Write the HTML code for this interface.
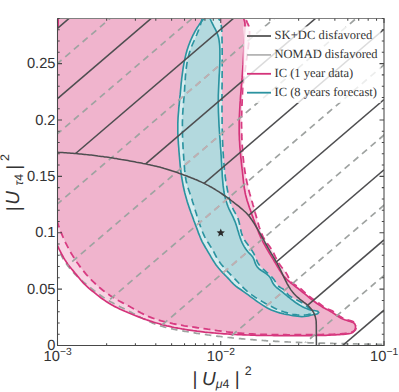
<!DOCTYPE html>
<html><head><meta charset="utf-8"><title>plot</title>
<style>html,body{margin:0;padding:0;background:#fff;}svg{display:block;}text{text-rendering:geometricPrecision;}</style></head>
<body>
<svg width="399" height="392" viewBox="0 0 399 392">
<defs>
<clipPath id="plot"><rect x="57.50" y="18.50" width="326.50" height="327.00"/></clipPath>
<clipPath id="skc"><path d="M57.5 152.3 L59.2 152.4 L60.9 152.5 L62.6 152.6 L64.3 152.7 L66.0 152.8 L67.6 152.9 L69.3 153.0 L71.0 153.2 L72.7 153.3 L74.4 153.4 L76.1 153.6 L77.8 153.7 L79.5 153.9 L81.1 154.0 L82.8 154.2 L84.5 154.4 L86.2 154.6 L87.9 154.7 L89.6 154.9 L91.2 155.1 L92.9 155.3 L94.6 155.5 L96.3 155.7 L98.0 156.0 L99.6 156.2 L101.3 156.4 L103.0 156.6 L104.7 156.9 L106.3 157.1 L108.0 157.3 L109.7 157.6 L111.3 157.8 L113.0 158.1 L114.7 158.4 L116.4 158.6 L118.0 158.9 L119.7 159.2 L121.4 159.5 L123.0 159.7 L124.7 160.0 L126.4 160.3 L128.0 160.6 L129.7 160.9 L131.4 161.2 L133.0 161.5 L134.7 161.8 L136.4 162.2 L138.0 162.5 L139.7 162.8 L141.4 163.1 L143.0 163.5 L144.7 163.8 L146.3 164.1 L148.0 164.5 L149.7 164.8 L151.3 165.2 L153.0 165.6 L154.6 165.9 L156.3 166.3 L157.9 166.7 L159.5 167.1 L161.2 167.6 L162.8 168.0 L164.4 168.5 L166.1 168.9 L167.7 169.4 L169.3 169.9 L170.9 170.4 L172.5 171.0 L174.1 171.5 L175.7 172.0 L177.3 172.6 L178.9 173.2 L180.5 173.7 L182.1 174.3 L183.7 174.9 L185.3 175.5 L186.9 176.1 L188.4 176.7 L190.0 177.3 L191.6 177.9 L193.2 178.5 L194.8 179.2 L196.3 179.8 L197.9 180.5 L199.4 181.2 L201.0 181.9 L202.5 182.6 L204.0 183.3 L205.5 184.1 L207.0 184.9 L208.5 185.6 L210.0 186.5 L211.5 187.3 L212.9 188.1 L214.4 189.0 L215.8 189.9 L217.3 190.8 L218.7 191.7 L220.1 192.6 L221.5 193.5 L222.9 194.5 L224.3 195.5 L225.7 196.4 L227.1 197.4 L228.4 198.4 L229.8 199.4 L231.2 200.5 L232.5 201.5 L233.9 202.5 L235.2 203.6 L236.5 204.6 L237.9 205.7 L239.2 206.7 L240.5 207.8 L241.8 208.9 L243.1 210.0 L244.4 211.2 L245.6 212.3 L246.8 213.5 L247.9 214.7 L249.0 216.0 L250.0 217.3 L251.0 218.7 L252.0 220.1 L252.9 221.5 L253.8 222.9 L254.7 224.4 L255.6 225.8 L256.5 227.3 L257.3 228.7 L258.2 230.2 L259.0 231.7 L259.9 233.1 L260.7 234.6 L261.5 236.1 L262.4 237.6 L263.2 239.0 L264.0 240.5 L264.8 242.0 L265.6 243.5 L266.5 245.0 L267.3 246.4 L268.1 247.9 L269.0 249.4 L269.8 250.9 L270.7 252.3 L271.5 253.8 L272.4 255.2 L273.2 256.7 L274.1 258.1 L275.0 259.6 L275.8 261.1 L276.7 262.5 L277.5 264.0 L278.3 265.5 L279.1 267.0 L279.9 268.5 L280.6 270.0 L281.3 271.5 L282.0 273.0 L282.7 274.6 L283.4 276.1 L284.1 277.7 L284.9 279.2 L285.6 280.7 L286.4 282.2 L287.2 283.8 L288.0 285.2 L288.9 286.7 L289.8 288.1 L290.7 289.6 L291.7 290.9 L292.8 292.3 L293.8 293.5 L295.0 294.8 L296.2 296.0 L297.4 297.1 L298.7 298.2 L300.0 299.3 L301.3 300.3 L302.7 301.4 L304.0 302.4 L305.4 303.4 L306.7 304.4 L308.0 305.5 L309.2 306.7 L310.3 307.9 L311.4 309.2 L312.3 310.5 L313.2 311.9 L314.0 313.4 L314.6 314.9 L315.2 316.4 L315.6 318.1 L316.0 319.8 L316.2 321.5 L316.2 323.3 L316.3 325.0 L316.40 345.50 L389.00 345.50 L389.00 13.50 L57.50 13.50 Z"/></clipPath>
<clipPath id="nmc"><path d="M57.5 247.5 L58.0 248.6 L58.5 249.7 L59.0 250.8 L59.5 251.8 L60.0 252.9 L60.5 254.0 L61.1 255.1 L61.7 256.1 L62.2 257.2 L62.8 258.2 L63.4 259.2 L64.1 260.3 L64.7 261.3 L65.4 262.3 L66.0 263.3 L66.7 264.3 L67.4 265.2 L68.1 266.2 L68.8 267.1 L69.6 268.1 L70.3 269.0 L71.1 269.9 L71.9 270.8 L72.7 271.7 L73.5 272.6 L74.3 273.4 L75.1 274.3 L76.0 275.1 L76.8 276.0 L77.7 276.8 L78.6 277.6 L79.4 278.4 L80.3 279.2 L81.2 280.0 L82.1 280.8 L83.0 281.6 L83.9 282.3 L84.9 283.1 L85.8 283.9 L86.7 284.6 L87.6 285.4 L88.6 286.1 L89.5 286.9 L90.4 287.6 L91.4 288.4 L92.3 289.1 L93.3 289.9 L94.2 290.6 L95.2 291.3 L96.1 292.1 L97.1 292.8 L98.0 293.5 L99.0 294.2 L100.0 294.9 L101.0 295.6 L101.9 296.3 L102.9 297.0 L103.9 297.6 L104.9 298.3 L105.9 298.9 L106.9 299.6 L107.9 300.2 L109.0 300.8 L110.0 301.4 L111.0 302.0 L112.1 302.5 L113.1 303.1 L114.2 303.7 L115.2 304.2 L116.3 304.8 L117.3 305.3 L118.4 305.9 L119.5 306.4 L120.5 306.9 L121.6 307.5 L122.7 308.0 L123.7 308.5 L124.8 309.1 L125.9 309.6 L126.9 310.1 L128.0 310.7 L129.1 311.2 L130.1 311.8 L131.2 312.3 L132.3 312.9 L133.3 313.5 L134.4 314.0 L135.4 314.6 L136.5 315.1 L137.6 315.7 L138.6 316.3 L139.7 316.8 L140.7 317.4 L141.8 317.9 L142.9 318.5 L143.9 319.0 L145.0 319.6 L146.1 320.1 L147.2 320.6 L148.2 321.1 L149.3 321.6 L150.4 322.1 L151.5 322.6 L152.6 323.1 L153.7 323.5 L154.8 323.9 L155.9 324.4 L157.0 324.8 L158.2 325.1 L159.3 325.5 L160.4 325.9 L161.6 326.2 L162.7 326.5 L163.9 326.9 L165.0 327.2 L166.2 327.5 L167.3 327.8 L168.5 328.0 L169.6 328.3 L170.8 328.6 L172.0 328.8 L173.2 329.1 L174.3 329.3 L175.5 329.6 L176.7 329.8 L177.9 330.0 L179.0 330.2 L180.2 330.5 L181.4 330.7 L182.6 330.9 L183.7 331.1 L184.9 331.3 L186.1 331.5 L187.3 331.7 L188.5 331.9 L189.6 332.1 L190.8 332.3 L192.0 332.5 L193.2 332.7 L194.4 332.9 L195.6 333.1 L196.7 333.3 L197.9 333.5 L199.1 333.6 L200.3 333.8 L201.5 334.0 L202.7 334.2 L203.8 334.4 L205.0 334.5 L206.2 334.7 L207.4 334.9 L208.6 335.0 L209.8 335.2 L210.9 335.3 L212.1 335.5 L213.3 335.7 L214.5 335.8 L215.7 336.0 L216.9 336.1 L218.1 336.3 L219.3 336.4 L220.4 336.5 L221.6 336.7 L222.8 336.8 L224.0 337.0 L225.2 337.1 L226.4 337.2 L227.6 337.4 L228.8 337.5 L229.9 337.6 L231.1 337.7 L232.3 337.9 L233.5 338.0 L234.7 338.1 L235.9 338.2 L237.1 338.3 L238.3 338.5 L239.5 338.6 L240.7 338.7 L241.8 338.8 L243.0 338.9 L244.2 339.0 L245.4 339.1 L246.6 339.2 L247.8 339.3 L249.0 339.4 L250.2 339.5 L251.4 339.6 L252.6 339.7 L253.8 339.8 L254.9 339.9 L256.1 340.0 L257.3 340.1 L258.5 340.2 L259.7 340.3 L260.9 340.3 L262.1 340.4 L263.3 340.5 L264.5 340.6 L265.7 340.7 L266.9 340.8 L268.1 340.8 L269.3 340.9 L270.4 341.0 L271.6 341.1 L272.8 341.1 L274.0 341.2 L275.2 341.3 L276.4 341.3 L277.6 341.4 L278.8 341.5 L280.0 341.5 L281.2 341.6 L282.4 341.7 L283.6 341.7 L284.8 341.8 L286.0 341.8 L287.2 341.9 L288.4 342.0 L289.6 342.0 L290.7 342.1 L291.9 342.1 L293.1 342.2 L294.3 342.2 L295.5 342.3 L296.7 342.3 L297.9 342.4 L299.1 342.4 L300.3 342.5 L301.5 342.5 L302.7 342.6 L303.9 342.6 L305.1 342.6 L306.3 342.7 L307.5 342.7 L308.7 342.8 L309.9 342.8 L311.1 342.9 L312.3 342.9 L313.5 342.9 L314.7 343.0 L315.8 343.0 L317.0 343.0 L318.2 343.1 L319.4 343.1 L320.6 343.1 L321.8 343.2 L323.0 343.2 L324.2 343.2 L325.4 343.3 L326.6 343.3 L327.8 343.3 L329.0 343.4 L330.2 343.4 L331.4 343.4 L332.6 343.4 L333.8 343.5 L335.0 343.5 L336.2 343.5 L337.4 343.6 L338.6 343.6 L339.8 343.6 L341.0 343.6 L342.2 343.7 L343.4 343.7 L344.5 343.7 L345.7 343.7 L346.9 343.8 L348.1 343.8 L349.3 343.8 L350.5 343.8 L351.7 343.8 L352.9 343.9 L354.1 343.9 L355.3 343.9 L356.5 343.9 L357.7 344.0 L358.9 344.0 L360.1 344.0 L361.3 344.0 L362.5 344.0 L363.7 344.1 L364.9 344.1 L366.1 344.1 L367.3 344.1 L368.5 344.1 L369.7 344.2 L370.9 344.2 L372.0 344.2 L373.2 344.2 L374.4 344.2 L375.6 344.3 L376.8 344.3 L378.0 344.3 L379.2 344.3 L380.4 344.4 L381.6 344.4 L382.8 344.4 L384.0 344.5 L389.00 345.50 L389.00 13.50 L57.50 13.50 Z"/></clipPath>
<clipPath id="pinkDc"><path d="M57.5 222.3 L58.1 224.2 L58.7 226.0 L59.4 227.9 L60.0 229.7 L60.7 231.6 L61.5 233.4 L62.2 235.2 L63.0 237.0 L63.8 238.8 L64.6 240.6 L65.4 242.3 L66.3 244.1 L67.2 245.9 L68.1 247.6 L69.0 249.3 L69.9 251.1 L70.9 252.8 L71.9 254.4 L72.9 256.1 L74.0 257.8 L75.0 259.4 L76.1 261.1 L77.2 262.7 L78.4 264.3 L79.5 265.9 L80.7 267.5 L81.9 269.0 L83.1 270.5 L84.4 272.1 L85.6 273.6 L86.9 275.1 L88.2 276.5 L89.6 278.0 L90.9 279.4 L92.3 280.8 L93.7 282.2 L95.1 283.5 L96.5 284.9 L98.0 286.2 L99.5 287.5 L101.0 288.7 L102.5 290.0 L104.1 291.2 L105.6 292.4 L107.2 293.5 L108.8 294.6 L110.4 295.7 L112.1 296.8 L113.7 297.8 L115.4 298.9 L117.1 299.8 L118.8 300.8 L120.6 301.7 L122.3 302.6 L124.0 303.6 L125.8 304.5 L127.5 305.4 L129.3 306.3 L131.0 307.3 L132.7 308.2 L134.4 309.2 L136.1 310.2 L137.8 311.2 L139.5 312.1 L141.2 313.0 L143.0 313.9 L144.7 314.8 L146.5 315.6 L148.3 316.4 L150.1 317.1 L152.0 317.8 L153.8 318.5 L155.7 319.1 L157.5 319.7 L159.4 320.3 L161.3 320.9 L163.2 321.4 L165.1 321.9 L167.0 322.4 L168.9 322.8 L170.8 323.2 L172.8 323.7 L174.7 324.0 L176.6 324.4 L178.5 324.8 L180.5 325.1 L182.4 325.4 L184.3 325.8 L186.3 326.1 L188.2 326.4 L190.2 326.7 L192.1 326.9 L194.0 327.2 L196.0 327.5 L197.9 327.8 L199.9 328.0 L201.8 328.3 L203.8 328.6 L205.7 328.9 L207.7 329.2 L209.6 329.4 L211.5 329.7 L213.5 330.0 L215.4 330.3 L217.4 330.6 L219.3 330.8 L221.3 331.1 L223.2 331.4 L225.2 331.6 L227.1 331.9 L229.1 332.1 L231.0 332.3 L233.0 332.5 L234.9 332.7 L236.9 332.9 L238.8 333.1 L240.8 333.2 L242.7 333.4 L244.7 333.5 L246.6 333.7 L248.6 333.8 L250.6 333.9 L252.5 334.0 L254.5 334.1 L256.4 334.2 L258.4 334.3 L260.4 334.3 L262.3 334.4 L264.3 334.5 L266.2 334.5 L268.2 334.6 L270.2 334.6 L272.1 334.6 L274.1 334.7 L276.1 334.7 L278.0 334.7 L280.0 334.7 L282.0 334.7 L283.9 334.7 L285.9 334.7 L287.9 334.8 L289.8 334.8 L291.8 334.8 L293.7 334.7 L295.7 334.7 L297.7 334.7 L299.6 334.7 L301.6 334.7 L303.6 334.7 L305.5 334.7 L307.5 334.7 L309.4 334.7 L311.4 334.7 L313.4 334.7 L315.3 334.6 L317.3 334.6 L319.2 334.6 L321.2 334.6 L323.2 334.5 L325.1 334.5 L327.1 334.4 L329.0 334.4 L331.0 334.3 L333.0 334.3 L334.9 334.2 L336.9 334.1 L338.9 334.0 L340.8 333.9 L342.8 333.7 L344.7 333.5 L346.7 333.2 L348.6 332.8 L350.6 332.4 L352.4 331.8 L354.2 331.0 L355.5 329.8 L356.2 328.0 L356.3 325.9 L355.8 324.0 L354.6 322.5 L353.0 321.6 L351.2 320.9 L349.2 320.3 L347.3 319.8 L345.4 319.3 L343.6 318.6 L341.9 317.6 L340.3 316.6 L338.7 315.4 L337.1 314.2 L335.5 313.0 L333.9 311.9 L332.2 310.9 L330.4 310.1 L328.6 309.4 L326.7 308.6 L325.0 307.7 L323.4 306.6 L321.9 305.4 L320.3 304.2 L318.7 303.0 L317.1 301.9 L315.5 300.8 L313.9 299.7 L312.2 298.6 L310.7 297.4 L309.1 296.3 L307.6 295.0 L306.1 293.8 L304.7 292.4 L303.3 291.1 L301.8 289.7 L300.3 288.4 L298.7 287.3 L297.0 286.2 L295.3 285.1 L293.7 284.0 L292.1 282.8 L290.8 281.5 L289.7 279.9 L288.8 278.2 L288.0 276.4 L287.1 274.6 L286.1 272.9 L285.0 271.3 L283.8 269.8 L282.5 268.2 L281.3 266.7 L280.1 265.1 L279.0 263.5 L278.0 261.8 L277.1 260.1 L276.2 258.3 L275.3 256.6 L274.5 254.8 L273.6 253.0 L272.7 251.3 L271.7 249.6 L270.6 248.0 L269.5 246.4 L268.3 244.8 L267.1 243.2 L266.0 241.6 L264.9 240.0 L263.9 238.3 L263.0 236.6 L262.2 234.8 L261.4 233.1 L260.7 231.3 L260.1 229.4 L259.4 227.6 L258.8 225.7 L258.3 223.8 L257.7 222.0 L257.2 220.1 L256.7 218.2 L256.2 216.3 L255.7 214.4 L255.1 212.5 L254.6 210.6 L254.1 208.7 L253.6 206.8 L253.0 204.9 L252.5 203.0 L251.9 201.1 L251.4 199.3 L250.8 197.4 L250.3 195.5 L249.7 193.6 L249.2 191.7 L248.7 189.8 L248.2 187.9 L247.8 186.0 L247.3 184.1 L246.9 182.2 L246.5 180.3 L246.1 178.3 L245.7 176.4 L245.4 174.5 L245.1 172.6 L244.8 170.6 L244.5 168.7 L244.2 166.7 L244.0 164.8 L243.7 162.8 L243.5 160.9 L243.3 158.9 L243.1 157.0 L242.9 155.0 L242.8 153.1 L242.6 151.1 L242.5 149.2 L242.3 147.2 L242.2 145.2 L242.1 143.3 L242.0 141.3 L241.9 139.4 L241.8 137.4 L241.7 135.4 L241.7 133.5 L241.6 131.5 L241.6 129.6 L241.6 127.6 L241.5 125.6 L241.5 123.7 L241.5 121.7 L241.6 119.7 L241.6 117.8 L241.6 115.8 L241.7 113.9 L241.7 111.9 L241.8 109.9 L241.9 108.0 L241.9 106.0 L242.0 104.1 L242.1 102.1 L242.2 100.1 L242.4 98.2 L242.5 96.2 L242.6 94.3 L242.8 92.3 L243.0 90.3 L243.1 88.4 L243.3 86.4 L243.5 84.5 L243.7 82.5 L243.9 80.6 L244.1 78.6 L244.3 76.7 L244.6 74.7 L244.8 72.8 L245.1 70.8 L245.3 68.9 L245.6 66.9 L245.8 65.0 L246.1 63.0 L246.4 61.1 L246.7 59.1 L247.0 57.2 L247.2 55.2 L247.5 53.3 L247.8 51.4 L248.0 49.4 L248.2 47.5 L248.5 45.5 L248.7 43.6 L248.9 41.6 L249.1 39.7 L249.2 37.7 L249.4 35.8 L249.5 33.8 L249.6 31.9 L249.5 29.9 L249.3 28.0 L248.8 26.1 L248.0 24.2 L247.1 22.3 L246.5 20.4 L246.7 18.5 L57.50 18.50 Z"/></clipPath>
<clipPath id="tealDc"><path d="M202.0 18.5 L201.6 20.6 L201.0 22.7 L200.4 24.8 L199.8 26.9 L199.0 28.9 L198.3 30.9 L197.4 33.0 L196.6 35.0 L195.7 37.0 L194.8 39.0 L194.0 41.0 L193.1 43.0 L192.2 45.0 L191.4 47.0 L190.7 49.1 L190.0 51.1 L189.3 53.2 L188.7 55.2 L188.2 57.3 L187.7 59.4 L187.3 61.5 L186.9 63.7 L186.6 65.8 L186.3 67.9 L186.0 70.1 L185.8 72.2 L185.6 74.4 L185.4 76.6 L185.3 78.7 L185.1 80.9 L185.0 83.1 L184.8 85.3 L184.7 87.4 L184.6 89.6 L184.4 91.8 L184.3 94.0 L184.1 96.2 L183.9 98.3 L183.7 100.5 L183.5 102.7 L183.4 104.8 L183.2 107.0 L183.0 109.2 L182.9 111.3 L182.7 113.5 L182.6 115.7 L182.5 117.8 L182.5 120.0 L182.4 122.2 L182.4 124.3 L182.4 126.5 L182.4 128.7 L182.4 130.8 L182.5 133.0 L182.5 135.2 L182.6 137.4 L182.7 139.5 L182.8 141.7 L182.9 143.9 L183.0 146.0 L183.1 148.2 L183.2 150.4 L183.4 152.6 L183.5 154.7 L183.7 156.9 L183.8 159.1 L184.0 161.2 L184.1 163.4 L184.3 165.6 L184.5 167.8 L184.6 169.9 L184.9 172.1 L185.1 174.3 L185.4 176.4 L185.7 178.5 L186.1 180.7 L186.6 182.8 L187.1 184.9 L187.7 187.0 L188.4 189.0 L189.1 191.1 L189.8 193.1 L190.5 195.2 L191.2 197.3 L191.9 199.3 L192.5 201.4 L193.2 203.5 L193.8 205.5 L194.5 207.6 L195.1 209.7 L195.7 211.8 L196.4 213.8 L197.0 215.9 L197.7 218.0 L198.3 220.0 L199.0 222.1 L199.7 224.2 L200.4 226.2 L201.1 228.3 L201.9 230.3 L202.7 232.3 L203.6 234.3 L204.5 236.3 L205.5 238.2 L206.6 240.1 L207.7 242.0 L208.9 243.8 L210.0 245.6 L211.2 247.5 L212.3 249.3 L213.4 251.2 L214.4 253.2 L215.4 255.1 L216.4 257.0 L217.5 258.9 L218.7 260.7 L219.9 262.5 L221.2 264.2 L222.6 265.9 L224.0 267.5 L225.5 269.2 L226.9 270.8 L228.4 272.3 L229.9 273.9 L231.4 275.5 L232.9 277.0 L234.5 278.6 L236.0 280.1 L237.5 281.7 L239.0 283.3 L240.5 284.8 L242.0 286.4 L243.5 287.9 L245.1 289.4 L246.7 290.8 L248.4 292.2 L250.1 293.6 L251.8 294.9 L253.6 296.1 L255.4 297.4 L257.2 298.6 L259.0 299.7 L260.9 300.8 L262.8 301.9 L264.7 303.0 L266.6 304.1 L268.5 305.1 L270.4 306.1 L272.4 307.0 L274.3 308.0 L276.3 308.9 L278.3 309.7 L280.3 310.5 L282.3 311.3 L284.3 312.0 L286.4 312.6 L288.5 313.3 L290.6 313.8 L292.8 314.3 L295.0 314.6 L297.1 314.9 L299.3 315.1 L301.5 315.2 L303.6 315.2 L305.8 315.0 L307.9 314.6 L310.0 314.1 L311.9 313.4 L311.9 311.9 L310.5 309.9 L308.9 308.1 L307.3 306.6 L305.6 305.2 L303.9 303.9 L302.1 302.8 L300.3 301.8 L298.4 300.8 L296.5 299.8 L294.5 298.8 L292.6 297.7 L290.7 296.6 L288.9 295.3 L287.4 293.8 L286.0 292.1 L284.6 290.4 L283.0 289.0 L281.0 287.9 L279.2 286.8 L277.7 285.3 L276.5 283.4 L275.3 281.6 L274.1 279.8 L272.7 278.1 L271.3 276.5 L269.7 275.0 L268.1 273.5 L266.5 272.1 L264.9 270.6 L263.2 269.2 L261.7 267.7 L260.2 266.2 L258.9 264.5 L257.7 262.7 L256.8 260.7 L256.0 258.6 L255.1 256.6 L254.3 254.6 L253.3 252.7 L252.2 250.9 L251.0 249.1 L249.8 247.3 L248.5 245.6 L247.2 243.8 L245.9 242.0 L244.7 240.2 L243.6 238.3 L242.7 236.4 L241.9 234.4 L241.3 232.4 L240.8 230.3 L240.3 228.2 L239.9 226.0 L239.5 223.9 L239.0 221.8 L238.4 219.7 L237.7 217.7 L236.8 215.7 L235.7 213.8 L234.6 211.9 L233.5 209.9 L232.6 208.0 L231.7 206.0 L231.0 204.0 L230.3 201.9 L229.7 199.8 L229.1 197.8 L228.6 195.7 L228.1 193.5 L227.7 191.4 L227.3 189.3 L226.9 187.2 L226.5 185.0 L226.2 182.9 L225.8 180.7 L225.5 178.6 L225.2 176.4 L225.0 174.3 L224.7 172.1 L224.5 170.0 L224.3 167.8 L224.1 165.6 L223.9 163.5 L223.7 161.3 L223.6 159.1 L223.4 157.0 L223.3 154.8 L223.1 152.6 L223.0 150.4 L222.9 148.3 L222.8 146.1 L222.7 143.9 L222.6 141.7 L222.5 139.6 L222.5 137.4 L222.4 135.2 L222.3 133.1 L222.3 130.9 L222.2 128.7 L222.2 126.5 L222.1 124.4 L222.1 122.2 L222.1 120.0 L222.1 117.9 L222.0 115.7 L222.0 113.5 L222.0 111.3 L222.0 109.2 L222.0 107.0 L222.0 104.8 L222.0 102.7 L222.0 100.5 L222.0 98.3 L222.0 96.2 L222.0 94.0 L222.0 91.8 L222.0 89.6 L222.0 87.5 L222.1 85.3 L222.1 83.1 L222.1 81.0 L222.1 78.8 L222.1 76.6 L222.1 74.4 L222.2 72.3 L222.2 70.1 L222.2 67.9 L222.2 65.8 L222.2 63.6 L222.2 61.4 L222.2 59.2 L222.2 57.1 L222.2 54.9 L222.2 52.7 L222.2 50.5 L222.1 48.4 L222.1 46.2 L222.1 44.0 L222.1 41.8 L222.0 39.7 L222.0 37.5 L221.9 35.3 L221.8 33.1 L221.8 30.9 L221.6 28.8 L221.4 26.6 L221.1 24.5 L220.5 22.4 L219.7 20.4 L218.6 18.5 Z"/></clipPath>
<clipPath id="tealU"><path d="M204.0 18.5 L202.5 20.2 L201.1 21.9 L199.8 23.8 L198.6 25.6 L197.3 27.5 L196.2 29.4 L195.0 31.4 L194.0 33.4 L192.9 35.4 L192.0 37.4 L191.0 39.5 L190.1 41.6 L189.3 43.7 L188.5 45.8 L187.8 47.9 L187.1 50.1 L186.5 52.2 L185.9 54.4 L185.4 56.6 L184.9 58.7 L184.4 60.9 L184.0 63.1 L183.6 65.3 L183.2 67.6 L182.9 69.8 L182.6 72.0 L182.3 74.2 L182.0 76.5 L181.7 78.7 L181.5 81.0 L181.2 83.2 L181.0 85.5 L180.8 87.7 L180.6 89.9 L180.4 92.2 L180.2 94.4 L179.9 96.7 L179.7 98.9 L179.5 101.2 L179.3 103.4 L179.1 105.7 L178.8 107.9 L178.7 110.2 L178.5 112.4 L178.3 114.6 L178.1 116.9 L178.0 119.1 L177.9 121.4 L177.8 123.6 L177.8 125.8 L177.8 128.1 L177.8 130.3 L177.8 132.6 L177.9 134.8 L178.0 137.1 L178.1 139.3 L178.3 141.6 L178.4 143.8 L178.6 146.1 L178.8 148.3 L178.9 150.6 L179.1 152.8 L179.3 155.1 L179.5 157.3 L179.7 159.6 L179.9 161.8 L180.1 164.1 L180.3 166.3 L180.6 168.6 L180.8 170.8 L181.1 173.0 L181.4 175.3 L181.7 177.5 L182.1 179.7 L182.5 181.9 L182.9 184.1 L183.3 186.3 L183.8 188.5 L184.3 190.7 L184.8 192.9 L185.4 195.1 L186.0 197.2 L186.6 199.4 L187.2 201.5 L187.9 203.7 L188.6 205.8 L189.3 207.9 L190.1 210.1 L190.8 212.2 L191.6 214.3 L192.4 216.4 L193.2 218.6 L193.9 220.7 L194.7 222.8 L195.5 224.9 L196.3 227.0 L197.1 229.1 L197.9 231.3 L198.6 233.4 L199.5 235.5 L200.3 237.5 L201.2 239.6 L202.1 241.6 L203.2 243.6 L204.3 245.5 L205.4 247.5 L206.6 249.4 L207.7 251.3 L208.9 253.3 L210.0 255.2 L211.1 257.2 L212.3 259.1 L213.5 261.0 L214.7 262.9 L215.9 264.8 L217.3 266.6 L218.7 268.3 L220.2 270.0 L221.7 271.7 L223.3 273.3 L224.8 274.9 L226.4 276.5 L228.0 278.1 L229.5 279.8 L231.0 281.5 L232.6 283.1 L234.1 284.7 L235.8 286.1 L237.6 287.5 L239.5 288.7 L241.4 290.0 L243.2 291.3 L245.0 292.6 L246.8 293.9 L248.6 295.2 L250.4 296.6 L252.2 297.9 L254.0 299.2 L255.9 300.6 L257.7 301.9 L259.6 303.1 L261.5 304.4 L263.4 305.6 L265.3 306.8 L267.3 307.9 L269.3 308.9 L271.3 309.9 L273.4 310.7 L275.5 311.5 L277.6 312.2 L279.7 312.9 L281.9 313.4 L284.1 314.0 L286.3 314.4 L288.5 314.8 L290.7 315.2 L293.0 315.6 L295.2 315.9 L297.4 316.2 L299.7 316.4 L301.9 316.6 L304.1 316.5 L306.3 316.3 L308.5 315.9 L310.6 315.3 L312.9 314.7 L315.3 314.4 L317.6 313.7 L318.7 312.4 L317.7 311.2 L315.4 310.8 L313.0 310.4 L310.9 310.0 L308.7 309.4 L306.6 308.6 L304.5 307.7 L302.5 306.7 L300.5 305.6 L298.6 304.5 L296.7 303.3 L294.9 302.0 L293.1 300.6 L291.3 299.3 L289.6 297.9 L287.8 296.5 L286.1 295.0 L284.3 293.6 L282.6 292.2 L280.8 290.8 L279.0 289.4 L277.2 288.0 L275.5 286.5 L274.1 284.9 L272.8 283.0 L271.8 280.9 L270.9 278.9 L269.7 276.9 L268.2 275.3 L266.4 273.8 L264.5 272.5 L262.5 271.3 L260.6 270.0 L258.8 268.6 L257.3 267.0 L256.1 265.2 L255.2 263.2 L254.5 261.0 L253.7 258.9 L252.7 256.9 L251.3 255.2 L249.7 253.7 L248.1 252.0 L246.7 250.3 L245.4 248.5 L244.2 246.6 L243.1 244.6 L242.1 242.6 L241.2 240.5 L240.4 238.4 L239.7 236.3 L239.0 234.2 L238.4 232.0 L237.7 229.9 L237.1 227.7 L236.4 225.6 L235.7 223.4 L234.9 221.3 L234.0 219.3 L233.1 217.2 L232.1 215.2 L231.1 213.1 L230.1 211.1 L229.1 209.1 L228.2 207.0 L227.4 204.9 L226.7 202.8 L226.0 200.7 L225.4 198.5 L224.9 196.4 L224.4 194.2 L224.0 192.0 L223.7 189.8 L223.4 187.6 L223.1 185.4 L222.9 183.1 L222.7 180.9 L222.5 178.6 L222.3 176.4 L222.2 174.1 L222.1 171.8 L221.9 169.6 L221.8 167.3 L221.7 165.0 L221.6 162.8 L221.4 160.5 L221.3 158.2 L221.2 156.0 L221.0 153.7 L220.9 151.5 L220.7 149.2 L220.5 147.0 L220.4 144.7 L220.2 142.5 L220.1 140.2 L219.9 138.0 L219.7 135.8 L219.6 133.5 L219.4 131.3 L219.3 129.0 L219.1 126.8 L219.0 124.6 L218.9 122.3 L218.8 120.1 L218.7 117.8 L218.6 115.6 L218.5 113.4 L218.4 111.1 L218.4 108.9 L218.3 106.6 L218.3 104.4 L218.3 102.1 L218.3 99.9 L218.3 97.7 L218.3 95.4 L218.4 93.2 L218.5 90.9 L218.6 88.6 L218.7 86.4 L218.8 84.1 L218.9 81.9 L219.0 79.6 L219.1 77.4 L219.2 75.1 L219.4 72.8 L219.5 70.6 L219.6 68.3 L219.7 66.1 L219.8 63.8 L219.8 61.6 L219.9 59.3 L219.9 57.1 L219.9 54.8 L219.9 52.6 L219.9 50.3 L219.8 48.1 L219.7 45.8 L219.5 43.6 L219.2 41.4 L218.9 39.2 L218.4 37.0 L217.7 34.9 L216.9 32.8 L216.0 30.7 L215.0 28.6 L213.9 26.6 L212.9 24.6 L211.8 22.5 L210.9 20.5 L210.0 18.5 Z"/><path d="M202.0 18.5 L201.6 20.6 L201.0 22.7 L200.4 24.8 L199.8 26.9 L199.0 28.9 L198.3 30.9 L197.4 33.0 L196.6 35.0 L195.7 37.0 L194.8 39.0 L194.0 41.0 L193.1 43.0 L192.2 45.0 L191.4 47.0 L190.7 49.1 L190.0 51.1 L189.3 53.2 L188.7 55.2 L188.2 57.3 L187.7 59.4 L187.3 61.5 L186.9 63.7 L186.6 65.8 L186.3 67.9 L186.0 70.1 L185.8 72.2 L185.6 74.4 L185.4 76.6 L185.3 78.7 L185.1 80.9 L185.0 83.1 L184.8 85.3 L184.7 87.4 L184.6 89.6 L184.4 91.8 L184.3 94.0 L184.1 96.2 L183.9 98.3 L183.7 100.5 L183.5 102.7 L183.4 104.8 L183.2 107.0 L183.0 109.2 L182.9 111.3 L182.7 113.5 L182.6 115.7 L182.5 117.8 L182.5 120.0 L182.4 122.2 L182.4 124.3 L182.4 126.5 L182.4 128.7 L182.4 130.8 L182.5 133.0 L182.5 135.2 L182.6 137.4 L182.7 139.5 L182.8 141.7 L182.9 143.9 L183.0 146.0 L183.1 148.2 L183.2 150.4 L183.4 152.6 L183.5 154.7 L183.7 156.9 L183.8 159.1 L184.0 161.2 L184.1 163.4 L184.3 165.6 L184.5 167.8 L184.6 169.9 L184.9 172.1 L185.1 174.3 L185.4 176.4 L185.7 178.5 L186.1 180.7 L186.6 182.8 L187.1 184.9 L187.7 187.0 L188.4 189.0 L189.1 191.1 L189.8 193.1 L190.5 195.2 L191.2 197.3 L191.9 199.3 L192.5 201.4 L193.2 203.5 L193.8 205.5 L194.5 207.6 L195.1 209.7 L195.7 211.8 L196.4 213.8 L197.0 215.9 L197.7 218.0 L198.3 220.0 L199.0 222.1 L199.7 224.2 L200.4 226.2 L201.1 228.3 L201.9 230.3 L202.7 232.3 L203.6 234.3 L204.5 236.3 L205.5 238.2 L206.6 240.1 L207.7 242.0 L208.9 243.8 L210.0 245.6 L211.2 247.5 L212.3 249.3 L213.4 251.2 L214.4 253.2 L215.4 255.1 L216.4 257.0 L217.5 258.9 L218.7 260.7 L219.9 262.5 L221.2 264.2 L222.6 265.9 L224.0 267.5 L225.5 269.2 L226.9 270.8 L228.4 272.3 L229.9 273.9 L231.4 275.5 L232.9 277.0 L234.5 278.6 L236.0 280.1 L237.5 281.7 L239.0 283.3 L240.5 284.8 L242.0 286.4 L243.5 287.9 L245.1 289.4 L246.7 290.8 L248.4 292.2 L250.1 293.6 L251.8 294.9 L253.6 296.1 L255.4 297.4 L257.2 298.6 L259.0 299.7 L260.9 300.8 L262.8 301.9 L264.7 303.0 L266.6 304.1 L268.5 305.1 L270.4 306.1 L272.4 307.0 L274.3 308.0 L276.3 308.9 L278.3 309.7 L280.3 310.5 L282.3 311.3 L284.3 312.0 L286.4 312.6 L288.5 313.3 L290.6 313.8 L292.8 314.3 L295.0 314.6 L297.1 314.9 L299.3 315.1 L301.5 315.2 L303.6 315.2 L305.8 315.0 L307.9 314.6 L310.0 314.1 L311.9 313.4 L311.9 311.9 L310.5 309.9 L308.9 308.1 L307.3 306.6 L305.6 305.2 L303.9 303.9 L302.1 302.8 L300.3 301.8 L298.4 300.8 L296.5 299.8 L294.5 298.8 L292.6 297.7 L290.7 296.6 L288.9 295.3 L287.4 293.8 L286.0 292.1 L284.6 290.4 L283.0 289.0 L281.0 287.9 L279.2 286.8 L277.7 285.3 L276.5 283.4 L275.3 281.6 L274.1 279.8 L272.7 278.1 L271.3 276.5 L269.7 275.0 L268.1 273.5 L266.5 272.1 L264.9 270.6 L263.2 269.2 L261.7 267.7 L260.2 266.2 L258.9 264.5 L257.7 262.7 L256.8 260.7 L256.0 258.6 L255.1 256.6 L254.3 254.6 L253.3 252.7 L252.2 250.9 L251.0 249.1 L249.8 247.3 L248.5 245.6 L247.2 243.8 L245.9 242.0 L244.7 240.2 L243.6 238.3 L242.7 236.4 L241.9 234.4 L241.3 232.4 L240.8 230.3 L240.3 228.2 L239.9 226.0 L239.5 223.9 L239.0 221.8 L238.4 219.7 L237.7 217.7 L236.8 215.7 L235.7 213.8 L234.6 211.9 L233.5 209.9 L232.6 208.0 L231.7 206.0 L231.0 204.0 L230.3 201.9 L229.7 199.8 L229.1 197.8 L228.6 195.7 L228.1 193.5 L227.7 191.4 L227.3 189.3 L226.9 187.2 L226.5 185.0 L226.2 182.9 L225.8 180.7 L225.5 178.6 L225.2 176.4 L225.0 174.3 L224.7 172.1 L224.5 170.0 L224.3 167.8 L224.1 165.6 L223.9 163.5 L223.7 161.3 L223.6 159.1 L223.4 157.0 L223.3 154.8 L223.1 152.6 L223.0 150.4 L222.9 148.3 L222.8 146.1 L222.7 143.9 L222.6 141.7 L222.5 139.6 L222.5 137.4 L222.4 135.2 L222.3 133.1 L222.3 130.9 L222.2 128.7 L222.2 126.5 L222.1 124.4 L222.1 122.2 L222.1 120.0 L222.1 117.9 L222.0 115.7 L222.0 113.5 L222.0 111.3 L222.0 109.2 L222.0 107.0 L222.0 104.8 L222.0 102.7 L222.0 100.5 L222.0 98.3 L222.0 96.2 L222.0 94.0 L222.0 91.8 L222.0 89.6 L222.0 87.5 L222.1 85.3 L222.1 83.1 L222.1 81.0 L222.1 78.8 L222.1 76.6 L222.1 74.4 L222.2 72.3 L222.2 70.1 L222.2 67.9 L222.2 65.8 L222.2 63.6 L222.2 61.4 L222.2 59.2 L222.2 57.1 L222.2 54.9 L222.2 52.7 L222.2 50.5 L222.1 48.4 L222.1 46.2 L222.1 44.0 L222.1 41.8 L222.0 39.7 L222.0 37.5 L221.9 35.3 L221.8 33.1 L221.8 30.9 L221.6 28.8 L221.4 26.6 L221.1 24.5 L220.5 22.4 L219.7 20.4 L218.6 18.5 Z"/></clipPath>
</defs>
<rect width="399" height="392" fill="#fff"/>
<g clip-path="url(#plot)">
<path d="M57.5 245.7 L58.3 247.4 L59.1 249.2 L60.0 250.9 L60.9 252.6 L61.7 254.3 L62.7 256.0 L63.6 257.7 L64.6 259.4 L65.7 261.0 L66.7 262.6 L67.8 264.2 L69.0 265.7 L70.2 267.2 L71.4 268.7 L72.6 270.1 L73.8 271.6 L75.0 273.1 L76.3 274.6 L77.5 276.1 L78.7 277.5 L79.9 279.0 L81.1 280.5 L82.4 281.9 L83.7 283.3 L85.1 284.7 L86.4 286.0 L87.9 287.3 L89.3 288.6 L90.8 289.8 L92.3 291.0 L93.8 292.2 L95.3 293.4 L96.8 294.6 L98.4 295.8 L99.9 297.0 L101.4 298.2 L103.0 299.3 L104.6 300.4 L106.2 301.5 L107.8 302.5 L109.4 303.5 L111.1 304.5 L112.8 305.4 L114.4 306.4 L116.2 307.2 L117.9 308.1 L119.6 308.9 L121.4 309.7 L123.1 310.5 L124.9 311.3 L126.7 312.0 L128.4 312.8 L130.2 313.5 L132.0 314.3 L133.8 315.0 L135.6 315.7 L137.4 316.4 L139.2 317.1 L141.0 317.8 L142.8 318.5 L144.6 319.1 L146.4 319.8 L148.2 320.4 L150.1 321.0 L151.9 321.6 L153.7 322.2 L155.6 322.8 L157.4 323.3 L159.3 323.8 L161.1 324.4 L163.0 324.9 L164.8 325.3 L166.7 325.8 L168.6 326.2 L170.5 326.6 L172.3 327.1 L174.2 327.5 L176.1 327.8 L178.0 328.2 L179.9 328.5 L181.8 328.9 L183.7 329.2 L185.6 329.5 L187.5 329.8 L189.4 330.1 L191.3 330.4 L193.2 330.7 L195.1 330.9 L197.0 331.2 L198.9 331.4 L200.9 331.6 L202.8 331.8 L204.7 332.1 L206.6 332.3 L208.5 332.5 L210.4 332.6 L212.4 332.8 L214.3 333.0 L216.2 333.2 L218.1 333.3 L220.0 333.5 L222.0 333.6 L223.9 333.8 L225.8 333.9 L227.7 334.0 L229.7 334.1 L231.6 334.3 L233.5 334.4 L235.4 334.5 L237.3 334.6 L239.3 334.7 L241.2 334.7 L243.1 334.8 L245.0 334.9 L247.0 335.0 L248.9 335.0 L250.8 335.1 L252.8 335.2 L254.7 335.2 L256.6 335.3 L258.5 335.3 L260.5 335.4 L262.4 335.4 L264.3 335.4 L266.2 335.5 L268.2 335.5 L270.1 335.5 L272.0 335.5 L273.9 335.6 L275.9 335.6 L277.8 335.6 L279.7 335.6 L281.6 335.6 L283.6 335.6 L285.5 335.6 L287.4 335.6 L289.3 335.6 L291.3 335.6 L293.2 335.6 L295.1 335.6 L297.0 335.6 L298.9 335.6 L300.9 335.6 L302.8 335.6 L304.7 335.6 L306.6 335.6 L308.5 335.6 L310.5 335.6 L312.4 335.6 L314.3 335.5 L316.2 335.5 L318.2 335.5 L320.1 335.4 L322.0 335.4 L323.9 335.3 L325.9 335.3 L327.8 335.2 L329.7 335.1 L331.6 335.0 L333.6 334.9 L335.5 334.8 L337.4 334.7 L339.4 334.6 L341.3 334.4 L343.3 334.3 L345.2 334.1 L347.1 333.9 L349.1 333.7 L350.9 333.2 L352.6 332.5 L354.0 331.2 L355.0 329.6 L355.5 327.7 L355.5 325.8 L354.9 324.1 L353.8 322.9 L352.1 322.1 L350.2 321.5 L348.3 320.9 L346.4 320.3 L344.6 319.7 L342.9 319.0 L341.1 318.2 L339.5 317.3 L337.9 316.3 L336.3 315.2 L334.7 314.1 L333.1 313.0 L331.4 311.9 L329.8 311.0 L328.1 310.1 L326.4 309.2 L324.7 308.3 L323.0 307.4 L321.4 306.4 L319.8 305.4 L318.2 304.3 L316.6 303.2 L315.0 302.0 L313.5 300.9 L312.0 299.7 L310.4 298.5 L308.9 297.3 L307.5 296.1 L306.0 294.9 L304.5 293.7 L303.0 292.5 L301.5 291.3 L300.0 290.1 L298.5 288.9 L297.0 287.7 L295.4 286.5 L293.9 285.4 L292.4 284.2 L290.9 283.0 L289.4 281.7 L287.9 280.5 L286.5 279.1 L285.2 277.7 L283.9 276.3 L282.7 274.8 L281.6 273.2 L280.6 271.6 L279.5 270.0 L278.6 268.4 L277.6 266.7 L276.6 265.0 L275.6 263.4 L274.6 261.7 L273.7 260.1 L272.6 258.4 L271.6 256.8 L270.6 255.1 L269.6 253.5 L268.6 251.8 L267.6 250.2 L266.7 248.5 L265.7 246.8 L264.8 245.1 L263.9 243.5 L263.0 241.8 L262.1 240.0 L261.3 238.3 L260.4 236.6 L259.7 234.8 L258.9 233.1 L258.2 231.3 L257.5 229.5 L256.8 227.7 L256.1 225.9 L255.4 224.1 L254.7 222.3 L254.1 220.5 L253.4 218.7 L252.8 216.9 L252.1 215.1 L251.5 213.2 L250.8 211.4 L250.2 209.6 L249.5 207.8 L248.9 205.9 L248.3 204.1 L247.7 202.3 L247.1 200.4 L246.6 198.6 L246.1 196.7 L245.6 194.9 L245.2 193.0 L244.9 191.1 L244.5 189.3 L244.2 187.4 L243.9 185.5 L243.7 183.5 L243.5 181.6 L243.3 179.7 L243.1 177.8 L242.9 175.9 L242.7 174.0 L242.5 172.0 L242.3 170.1 L242.0 168.2 L241.8 166.3 L241.6 164.4 L241.4 162.4 L241.2 160.5 L241.0 158.6 L240.8 156.7 L240.6 154.8 L240.4 152.8 L240.3 150.9 L240.1 149.0 L239.9 147.1 L239.8 145.1 L239.7 143.2 L239.6 141.3 L239.4 139.4 L239.4 137.5 L239.3 135.5 L239.2 133.6 L239.2 131.7 L239.2 129.8 L239.2 127.9 L239.2 125.9 L239.2 124.0 L239.2 122.1 L239.3 120.2 L239.3 118.2 L239.4 116.3 L239.5 114.4 L239.6 112.5 L239.7 110.6 L239.8 108.6 L239.9 106.7 L240.0 104.8 L240.1 102.9 L240.3 100.9 L240.4 99.0 L240.5 97.1 L240.7 95.2 L240.8 93.3 L241.0 91.3 L241.1 89.4 L241.3 87.5 L241.4 85.6 L241.6 83.6 L241.8 81.7 L241.9 79.8 L242.1 77.9 L242.2 76.0 L242.4 74.0 L242.5 72.1 L242.7 70.2 L242.8 68.3 L242.9 66.3 L243.1 64.4 L243.2 62.5 L243.3 60.6 L243.4 58.7 L243.5 56.7 L243.6 54.8 L243.7 52.9 L243.8 51.0 L243.8 49.1 L243.9 47.1 L244.0 45.2 L244.0 43.3 L244.1 41.4 L244.2 39.4 L244.3 37.5 L244.4 35.6 L244.5 33.7 L244.7 31.7 L244.8 29.8 L245.0 27.9 L245.0 26.0 L245.0 24.1 L244.8 22.2 L244.3 20.3 L243.5 18.5 L57.50 18.50 Z" fill="#f8d3e3"/>
<path d="M57.5 222.3 L58.1 224.2 L58.7 226.0 L59.4 227.9 L60.0 229.7 L60.7 231.6 L61.5 233.4 L62.2 235.2 L63.0 237.0 L63.8 238.8 L64.6 240.6 L65.4 242.3 L66.3 244.1 L67.2 245.9 L68.1 247.6 L69.0 249.3 L69.9 251.1 L70.9 252.8 L71.9 254.4 L72.9 256.1 L74.0 257.8 L75.0 259.4 L76.1 261.1 L77.2 262.7 L78.4 264.3 L79.5 265.9 L80.7 267.5 L81.9 269.0 L83.1 270.5 L84.4 272.1 L85.6 273.6 L86.9 275.1 L88.2 276.5 L89.6 278.0 L90.9 279.4 L92.3 280.8 L93.7 282.2 L95.1 283.5 L96.5 284.9 L98.0 286.2 L99.5 287.5 L101.0 288.7 L102.5 290.0 L104.1 291.2 L105.6 292.4 L107.2 293.5 L108.8 294.6 L110.4 295.7 L112.1 296.8 L113.7 297.8 L115.4 298.9 L117.1 299.8 L118.8 300.8 L120.6 301.7 L122.3 302.6 L124.0 303.6 L125.8 304.5 L127.5 305.4 L129.3 306.3 L131.0 307.3 L132.7 308.2 L134.4 309.2 L136.1 310.2 L137.8 311.2 L139.5 312.1 L141.2 313.0 L143.0 313.9 L144.7 314.8 L146.5 315.6 L148.3 316.4 L150.1 317.1 L152.0 317.8 L153.8 318.5 L155.7 319.1 L157.5 319.7 L159.4 320.3 L161.3 320.9 L163.2 321.4 L165.1 321.9 L167.0 322.4 L168.9 322.8 L170.8 323.2 L172.8 323.7 L174.7 324.0 L176.6 324.4 L178.5 324.8 L180.5 325.1 L182.4 325.4 L184.3 325.8 L186.3 326.1 L188.2 326.4 L190.2 326.7 L192.1 326.9 L194.0 327.2 L196.0 327.5 L197.9 327.8 L199.9 328.0 L201.8 328.3 L203.8 328.6 L205.7 328.9 L207.7 329.2 L209.6 329.4 L211.5 329.7 L213.5 330.0 L215.4 330.3 L217.4 330.6 L219.3 330.8 L221.3 331.1 L223.2 331.4 L225.2 331.6 L227.1 331.9 L229.1 332.1 L231.0 332.3 L233.0 332.5 L234.9 332.7 L236.9 332.9 L238.8 333.1 L240.8 333.2 L242.7 333.4 L244.7 333.5 L246.6 333.7 L248.6 333.8 L250.6 333.9 L252.5 334.0 L254.5 334.1 L256.4 334.2 L258.4 334.3 L260.4 334.3 L262.3 334.4 L264.3 334.5 L266.2 334.5 L268.2 334.6 L270.2 334.6 L272.1 334.6 L274.1 334.7 L276.1 334.7 L278.0 334.7 L280.0 334.7 L282.0 334.7 L283.9 334.7 L285.9 334.7 L287.9 334.8 L289.8 334.8 L291.8 334.8 L293.7 334.7 L295.7 334.7 L297.7 334.7 L299.6 334.7 L301.6 334.7 L303.6 334.7 L305.5 334.7 L307.5 334.7 L309.4 334.7 L311.4 334.7 L313.4 334.7 L315.3 334.6 L317.3 334.6 L319.2 334.6 L321.2 334.6 L323.2 334.5 L325.1 334.5 L327.1 334.4 L329.0 334.4 L331.0 334.3 L333.0 334.3 L334.9 334.2 L336.9 334.1 L338.9 334.0 L340.8 333.9 L342.8 333.7 L344.7 333.5 L346.7 333.2 L348.6 332.8 L350.6 332.4 L352.4 331.8 L354.2 331.0 L355.5 329.8 L356.2 328.0 L356.3 325.9 L355.8 324.0 L354.6 322.5 L353.0 321.6 L351.2 320.9 L349.2 320.3 L347.3 319.8 L345.4 319.3 L343.6 318.6 L341.9 317.6 L340.3 316.6 L338.7 315.4 L337.1 314.2 L335.5 313.0 L333.9 311.9 L332.2 310.9 L330.4 310.1 L328.6 309.4 L326.7 308.6 L325.0 307.7 L323.4 306.6 L321.9 305.4 L320.3 304.2 L318.7 303.0 L317.1 301.9 L315.5 300.8 L313.9 299.7 L312.2 298.6 L310.7 297.4 L309.1 296.3 L307.6 295.0 L306.1 293.8 L304.7 292.4 L303.3 291.1 L301.8 289.7 L300.3 288.4 L298.7 287.3 L297.0 286.2 L295.3 285.1 L293.7 284.0 L292.1 282.8 L290.8 281.5 L289.7 279.9 L288.8 278.2 L288.0 276.4 L287.1 274.6 L286.1 272.9 L285.0 271.3 L283.8 269.8 L282.5 268.2 L281.3 266.7 L280.1 265.1 L279.0 263.5 L278.0 261.8 L277.1 260.1 L276.2 258.3 L275.3 256.6 L274.5 254.8 L273.6 253.0 L272.7 251.3 L271.7 249.6 L270.6 248.0 L269.5 246.4 L268.3 244.8 L267.1 243.2 L266.0 241.6 L264.9 240.0 L263.9 238.3 L263.0 236.6 L262.2 234.8 L261.4 233.1 L260.7 231.3 L260.1 229.4 L259.4 227.6 L258.8 225.7 L258.3 223.8 L257.7 222.0 L257.2 220.1 L256.7 218.2 L256.2 216.3 L255.7 214.4 L255.1 212.5 L254.6 210.6 L254.1 208.7 L253.6 206.8 L253.0 204.9 L252.5 203.0 L251.9 201.1 L251.4 199.3 L250.8 197.4 L250.3 195.5 L249.7 193.6 L249.2 191.7 L248.7 189.8 L248.2 187.9 L247.8 186.0 L247.3 184.1 L246.9 182.2 L246.5 180.3 L246.1 178.3 L245.7 176.4 L245.4 174.5 L245.1 172.6 L244.8 170.6 L244.5 168.7 L244.2 166.7 L244.0 164.8 L243.7 162.8 L243.5 160.9 L243.3 158.9 L243.1 157.0 L242.9 155.0 L242.8 153.1 L242.6 151.1 L242.5 149.2 L242.3 147.2 L242.2 145.2 L242.1 143.3 L242.0 141.3 L241.9 139.4 L241.8 137.4 L241.7 135.4 L241.7 133.5 L241.6 131.5 L241.6 129.6 L241.6 127.6 L241.5 125.6 L241.5 123.7 L241.5 121.7 L241.6 119.7 L241.6 117.8 L241.6 115.8 L241.7 113.9 L241.7 111.9 L241.8 109.9 L241.9 108.0 L241.9 106.0 L242.0 104.1 L242.1 102.1 L242.2 100.1 L242.4 98.2 L242.5 96.2 L242.6 94.3 L242.8 92.3 L243.0 90.3 L243.1 88.4 L243.3 86.4 L243.5 84.5 L243.7 82.5 L243.9 80.6 L244.1 78.6 L244.3 76.7 L244.6 74.7 L244.8 72.8 L245.1 70.8 L245.3 68.9 L245.6 66.9 L245.8 65.0 L246.1 63.0 L246.4 61.1 L246.7 59.1 L247.0 57.2 L247.2 55.2 L247.5 53.3 L247.8 51.4 L248.0 49.4 L248.2 47.5 L248.5 45.5 L248.7 43.6 L248.9 41.6 L249.1 39.7 L249.2 37.7 L249.4 35.8 L249.5 33.8 L249.6 31.9 L249.5 29.9 L249.3 28.0 L248.8 26.1 L248.0 24.2 L247.1 22.3 L246.5 20.4 L246.7 18.5 L57.50 18.50 Z" fill="#f8d3e3"/>
<g clip-path="url(#pinkDc)"><path d="M57.5 245.7 L58.3 247.4 L59.1 249.2 L60.0 250.9 L60.9 252.6 L61.7 254.3 L62.7 256.0 L63.6 257.7 L64.6 259.4 L65.7 261.0 L66.7 262.6 L67.8 264.2 L69.0 265.7 L70.2 267.2 L71.4 268.7 L72.6 270.1 L73.8 271.6 L75.0 273.1 L76.3 274.6 L77.5 276.1 L78.7 277.5 L79.9 279.0 L81.1 280.5 L82.4 281.9 L83.7 283.3 L85.1 284.7 L86.4 286.0 L87.9 287.3 L89.3 288.6 L90.8 289.8 L92.3 291.0 L93.8 292.2 L95.3 293.4 L96.8 294.6 L98.4 295.8 L99.9 297.0 L101.4 298.2 L103.0 299.3 L104.6 300.4 L106.2 301.5 L107.8 302.5 L109.4 303.5 L111.1 304.5 L112.8 305.4 L114.4 306.4 L116.2 307.2 L117.9 308.1 L119.6 308.9 L121.4 309.7 L123.1 310.5 L124.9 311.3 L126.7 312.0 L128.4 312.8 L130.2 313.5 L132.0 314.3 L133.8 315.0 L135.6 315.7 L137.4 316.4 L139.2 317.1 L141.0 317.8 L142.8 318.5 L144.6 319.1 L146.4 319.8 L148.2 320.4 L150.1 321.0 L151.9 321.6 L153.7 322.2 L155.6 322.8 L157.4 323.3 L159.3 323.8 L161.1 324.4 L163.0 324.9 L164.8 325.3 L166.7 325.8 L168.6 326.2 L170.5 326.6 L172.3 327.1 L174.2 327.5 L176.1 327.8 L178.0 328.2 L179.9 328.5 L181.8 328.9 L183.7 329.2 L185.6 329.5 L187.5 329.8 L189.4 330.1 L191.3 330.4 L193.2 330.7 L195.1 330.9 L197.0 331.2 L198.9 331.4 L200.9 331.6 L202.8 331.8 L204.7 332.1 L206.6 332.3 L208.5 332.5 L210.4 332.6 L212.4 332.8 L214.3 333.0 L216.2 333.2 L218.1 333.3 L220.0 333.5 L222.0 333.6 L223.9 333.8 L225.8 333.9 L227.7 334.0 L229.7 334.1 L231.6 334.3 L233.5 334.4 L235.4 334.5 L237.3 334.6 L239.3 334.7 L241.2 334.7 L243.1 334.8 L245.0 334.9 L247.0 335.0 L248.9 335.0 L250.8 335.1 L252.8 335.2 L254.7 335.2 L256.6 335.3 L258.5 335.3 L260.5 335.4 L262.4 335.4 L264.3 335.4 L266.2 335.5 L268.2 335.5 L270.1 335.5 L272.0 335.5 L273.9 335.6 L275.9 335.6 L277.8 335.6 L279.7 335.6 L281.6 335.6 L283.6 335.6 L285.5 335.6 L287.4 335.6 L289.3 335.6 L291.3 335.6 L293.2 335.6 L295.1 335.6 L297.0 335.6 L298.9 335.6 L300.9 335.6 L302.8 335.6 L304.7 335.6 L306.6 335.6 L308.5 335.6 L310.5 335.6 L312.4 335.6 L314.3 335.5 L316.2 335.5 L318.2 335.5 L320.1 335.4 L322.0 335.4 L323.9 335.3 L325.9 335.3 L327.8 335.2 L329.7 335.1 L331.6 335.0 L333.6 334.9 L335.5 334.8 L337.4 334.7 L339.4 334.6 L341.3 334.4 L343.3 334.3 L345.2 334.1 L347.1 333.9 L349.1 333.7 L350.9 333.2 L352.6 332.5 L354.0 331.2 L355.0 329.6 L355.5 327.7 L355.5 325.8 L354.9 324.1 L353.8 322.9 L352.1 322.1 L350.2 321.5 L348.3 320.9 L346.4 320.3 L344.6 319.7 L342.9 319.0 L341.1 318.2 L339.5 317.3 L337.9 316.3 L336.3 315.2 L334.7 314.1 L333.1 313.0 L331.4 311.9 L329.8 311.0 L328.1 310.1 L326.4 309.2 L324.7 308.3 L323.0 307.4 L321.4 306.4 L319.8 305.4 L318.2 304.3 L316.6 303.2 L315.0 302.0 L313.5 300.9 L312.0 299.7 L310.4 298.5 L308.9 297.3 L307.5 296.1 L306.0 294.9 L304.5 293.7 L303.0 292.5 L301.5 291.3 L300.0 290.1 L298.5 288.9 L297.0 287.7 L295.4 286.5 L293.9 285.4 L292.4 284.2 L290.9 283.0 L289.4 281.7 L287.9 280.5 L286.5 279.1 L285.2 277.7 L283.9 276.3 L282.7 274.8 L281.6 273.2 L280.6 271.6 L279.5 270.0 L278.6 268.4 L277.6 266.7 L276.6 265.0 L275.6 263.4 L274.6 261.7 L273.7 260.1 L272.6 258.4 L271.6 256.8 L270.6 255.1 L269.6 253.5 L268.6 251.8 L267.6 250.2 L266.7 248.5 L265.7 246.8 L264.8 245.1 L263.9 243.5 L263.0 241.8 L262.1 240.0 L261.3 238.3 L260.4 236.6 L259.7 234.8 L258.9 233.1 L258.2 231.3 L257.5 229.5 L256.8 227.7 L256.1 225.9 L255.4 224.1 L254.7 222.3 L254.1 220.5 L253.4 218.7 L252.8 216.9 L252.1 215.1 L251.5 213.2 L250.8 211.4 L250.2 209.6 L249.5 207.8 L248.9 205.9 L248.3 204.1 L247.7 202.3 L247.1 200.4 L246.6 198.6 L246.1 196.7 L245.6 194.9 L245.2 193.0 L244.9 191.1 L244.5 189.3 L244.2 187.4 L243.9 185.5 L243.7 183.5 L243.5 181.6 L243.3 179.7 L243.1 177.8 L242.9 175.9 L242.7 174.0 L242.5 172.0 L242.3 170.1 L242.0 168.2 L241.8 166.3 L241.6 164.4 L241.4 162.4 L241.2 160.5 L241.0 158.6 L240.8 156.7 L240.6 154.8 L240.4 152.8 L240.3 150.9 L240.1 149.0 L239.9 147.1 L239.8 145.1 L239.7 143.2 L239.6 141.3 L239.4 139.4 L239.4 137.5 L239.3 135.5 L239.2 133.6 L239.2 131.7 L239.2 129.8 L239.2 127.9 L239.2 125.9 L239.2 124.0 L239.2 122.1 L239.3 120.2 L239.3 118.2 L239.4 116.3 L239.5 114.4 L239.6 112.5 L239.7 110.6 L239.8 108.6 L239.9 106.7 L240.0 104.8 L240.1 102.9 L240.3 100.9 L240.4 99.0 L240.5 97.1 L240.7 95.2 L240.8 93.3 L241.0 91.3 L241.1 89.4 L241.3 87.5 L241.4 85.6 L241.6 83.6 L241.8 81.7 L241.9 79.8 L242.1 77.9 L242.2 76.0 L242.4 74.0 L242.5 72.1 L242.7 70.2 L242.8 68.3 L242.9 66.3 L243.1 64.4 L243.2 62.5 L243.3 60.6 L243.4 58.7 L243.5 56.7 L243.6 54.8 L243.7 52.9 L243.8 51.0 L243.8 49.1 L243.9 47.1 L244.0 45.2 L244.0 43.3 L244.1 41.4 L244.2 39.4 L244.3 37.5 L244.4 35.6 L244.5 33.7 L244.7 31.7 L244.8 29.8 L245.0 27.9 L245.0 26.0 L245.0 24.1 L244.8 22.2 L244.3 20.3 L243.5 18.5 L57.50 18.50 Z" fill="#f0b4cd"/></g>
<path d="M204.0 18.5 L202.5 20.2 L201.1 21.9 L199.8 23.8 L198.6 25.6 L197.3 27.5 L196.2 29.4 L195.0 31.4 L194.0 33.4 L192.9 35.4 L192.0 37.4 L191.0 39.5 L190.1 41.6 L189.3 43.7 L188.5 45.8 L187.8 47.9 L187.1 50.1 L186.5 52.2 L185.9 54.4 L185.4 56.6 L184.9 58.7 L184.4 60.9 L184.0 63.1 L183.6 65.3 L183.2 67.6 L182.9 69.8 L182.6 72.0 L182.3 74.2 L182.0 76.5 L181.7 78.7 L181.5 81.0 L181.2 83.2 L181.0 85.5 L180.8 87.7 L180.6 89.9 L180.4 92.2 L180.2 94.4 L179.9 96.7 L179.7 98.9 L179.5 101.2 L179.3 103.4 L179.1 105.7 L178.8 107.9 L178.7 110.2 L178.5 112.4 L178.3 114.6 L178.1 116.9 L178.0 119.1 L177.9 121.4 L177.8 123.6 L177.8 125.8 L177.8 128.1 L177.8 130.3 L177.8 132.6 L177.9 134.8 L178.0 137.1 L178.1 139.3 L178.3 141.6 L178.4 143.8 L178.6 146.1 L178.8 148.3 L178.9 150.6 L179.1 152.8 L179.3 155.1 L179.5 157.3 L179.7 159.6 L179.9 161.8 L180.1 164.1 L180.3 166.3 L180.6 168.6 L180.8 170.8 L181.1 173.0 L181.4 175.3 L181.7 177.5 L182.1 179.7 L182.5 181.9 L182.9 184.1 L183.3 186.3 L183.8 188.5 L184.3 190.7 L184.8 192.9 L185.4 195.1 L186.0 197.2 L186.6 199.4 L187.2 201.5 L187.9 203.7 L188.6 205.8 L189.3 207.9 L190.1 210.1 L190.8 212.2 L191.6 214.3 L192.4 216.4 L193.2 218.6 L193.9 220.7 L194.7 222.8 L195.5 224.9 L196.3 227.0 L197.1 229.1 L197.9 231.3 L198.6 233.4 L199.5 235.5 L200.3 237.5 L201.2 239.6 L202.1 241.6 L203.2 243.6 L204.3 245.5 L205.4 247.5 L206.6 249.4 L207.7 251.3 L208.9 253.3 L210.0 255.2 L211.1 257.2 L212.3 259.1 L213.5 261.0 L214.7 262.9 L215.9 264.8 L217.3 266.6 L218.7 268.3 L220.2 270.0 L221.7 271.7 L223.3 273.3 L224.8 274.9 L226.4 276.5 L228.0 278.1 L229.5 279.8 L231.0 281.5 L232.6 283.1 L234.1 284.7 L235.8 286.1 L237.6 287.5 L239.5 288.7 L241.4 290.0 L243.2 291.3 L245.0 292.6 L246.8 293.9 L248.6 295.2 L250.4 296.6 L252.2 297.9 L254.0 299.2 L255.9 300.6 L257.7 301.9 L259.6 303.1 L261.5 304.4 L263.4 305.6 L265.3 306.8 L267.3 307.9 L269.3 308.9 L271.3 309.9 L273.4 310.7 L275.5 311.5 L277.6 312.2 L279.7 312.9 L281.9 313.4 L284.1 314.0 L286.3 314.4 L288.5 314.8 L290.7 315.2 L293.0 315.6 L295.2 315.9 L297.4 316.2 L299.7 316.4 L301.9 316.6 L304.1 316.5 L306.3 316.3 L308.5 315.9 L310.6 315.3 L312.9 314.7 L315.3 314.4 L317.6 313.7 L318.7 312.4 L317.7 311.2 L315.4 310.8 L313.0 310.4 L310.9 310.0 L308.7 309.4 L306.6 308.6 L304.5 307.7 L302.5 306.7 L300.5 305.6 L298.6 304.5 L296.7 303.3 L294.9 302.0 L293.1 300.6 L291.3 299.3 L289.6 297.9 L287.8 296.5 L286.1 295.0 L284.3 293.6 L282.6 292.2 L280.8 290.8 L279.0 289.4 L277.2 288.0 L275.5 286.5 L274.1 284.9 L272.8 283.0 L271.8 280.9 L270.9 278.9 L269.7 276.9 L268.2 275.3 L266.4 273.8 L264.5 272.5 L262.5 271.3 L260.6 270.0 L258.8 268.6 L257.3 267.0 L256.1 265.2 L255.2 263.2 L254.5 261.0 L253.7 258.9 L252.7 256.9 L251.3 255.2 L249.7 253.7 L248.1 252.0 L246.7 250.3 L245.4 248.5 L244.2 246.6 L243.1 244.6 L242.1 242.6 L241.2 240.5 L240.4 238.4 L239.7 236.3 L239.0 234.2 L238.4 232.0 L237.7 229.9 L237.1 227.7 L236.4 225.6 L235.7 223.4 L234.9 221.3 L234.0 219.3 L233.1 217.2 L232.1 215.2 L231.1 213.1 L230.1 211.1 L229.1 209.1 L228.2 207.0 L227.4 204.9 L226.7 202.8 L226.0 200.7 L225.4 198.5 L224.9 196.4 L224.4 194.2 L224.0 192.0 L223.7 189.8 L223.4 187.6 L223.1 185.4 L222.9 183.1 L222.7 180.9 L222.5 178.6 L222.3 176.4 L222.2 174.1 L222.1 171.8 L221.9 169.6 L221.8 167.3 L221.7 165.0 L221.6 162.8 L221.4 160.5 L221.3 158.2 L221.2 156.0 L221.0 153.7 L220.9 151.5 L220.7 149.2 L220.5 147.0 L220.4 144.7 L220.2 142.5 L220.1 140.2 L219.9 138.0 L219.7 135.8 L219.6 133.5 L219.4 131.3 L219.3 129.0 L219.1 126.8 L219.0 124.6 L218.9 122.3 L218.8 120.1 L218.7 117.8 L218.6 115.6 L218.5 113.4 L218.4 111.1 L218.4 108.9 L218.3 106.6 L218.3 104.4 L218.3 102.1 L218.3 99.9 L218.3 97.7 L218.3 95.4 L218.4 93.2 L218.5 90.9 L218.6 88.6 L218.7 86.4 L218.8 84.1 L218.9 81.9 L219.0 79.6 L219.1 77.4 L219.2 75.1 L219.4 72.8 L219.5 70.6 L219.6 68.3 L219.7 66.1 L219.8 63.8 L219.8 61.6 L219.9 59.3 L219.9 57.1 L219.9 54.8 L219.9 52.6 L219.9 50.3 L219.8 48.1 L219.7 45.8 L219.5 43.6 L219.2 41.4 L218.9 39.2 L218.4 37.0 L217.7 34.9 L216.9 32.8 L216.0 30.7 L215.0 28.6 L213.9 26.6 L212.9 24.6 L211.8 22.5 L210.9 20.5 L210.0 18.5 Z" fill="#d6ecef"/>
<path d="M202.0 18.5 L201.6 20.6 L201.0 22.7 L200.4 24.8 L199.8 26.9 L199.0 28.9 L198.3 30.9 L197.4 33.0 L196.6 35.0 L195.7 37.0 L194.8 39.0 L194.0 41.0 L193.1 43.0 L192.2 45.0 L191.4 47.0 L190.7 49.1 L190.0 51.1 L189.3 53.2 L188.7 55.2 L188.2 57.3 L187.7 59.4 L187.3 61.5 L186.9 63.7 L186.6 65.8 L186.3 67.9 L186.0 70.1 L185.8 72.2 L185.6 74.4 L185.4 76.6 L185.3 78.7 L185.1 80.9 L185.0 83.1 L184.8 85.3 L184.7 87.4 L184.6 89.6 L184.4 91.8 L184.3 94.0 L184.1 96.2 L183.9 98.3 L183.7 100.5 L183.5 102.7 L183.4 104.8 L183.2 107.0 L183.0 109.2 L182.9 111.3 L182.7 113.5 L182.6 115.7 L182.5 117.8 L182.5 120.0 L182.4 122.2 L182.4 124.3 L182.4 126.5 L182.4 128.7 L182.4 130.8 L182.5 133.0 L182.5 135.2 L182.6 137.4 L182.7 139.5 L182.8 141.7 L182.9 143.9 L183.0 146.0 L183.1 148.2 L183.2 150.4 L183.4 152.6 L183.5 154.7 L183.7 156.9 L183.8 159.1 L184.0 161.2 L184.1 163.4 L184.3 165.6 L184.5 167.8 L184.6 169.9 L184.9 172.1 L185.1 174.3 L185.4 176.4 L185.7 178.5 L186.1 180.7 L186.6 182.8 L187.1 184.9 L187.7 187.0 L188.4 189.0 L189.1 191.1 L189.8 193.1 L190.5 195.2 L191.2 197.3 L191.9 199.3 L192.5 201.4 L193.2 203.5 L193.8 205.5 L194.5 207.6 L195.1 209.7 L195.7 211.8 L196.4 213.8 L197.0 215.9 L197.7 218.0 L198.3 220.0 L199.0 222.1 L199.7 224.2 L200.4 226.2 L201.1 228.3 L201.9 230.3 L202.7 232.3 L203.6 234.3 L204.5 236.3 L205.5 238.2 L206.6 240.1 L207.7 242.0 L208.9 243.8 L210.0 245.6 L211.2 247.5 L212.3 249.3 L213.4 251.2 L214.4 253.2 L215.4 255.1 L216.4 257.0 L217.5 258.9 L218.7 260.7 L219.9 262.5 L221.2 264.2 L222.6 265.9 L224.0 267.5 L225.5 269.2 L226.9 270.8 L228.4 272.3 L229.9 273.9 L231.4 275.5 L232.9 277.0 L234.5 278.6 L236.0 280.1 L237.5 281.7 L239.0 283.3 L240.5 284.8 L242.0 286.4 L243.5 287.9 L245.1 289.4 L246.7 290.8 L248.4 292.2 L250.1 293.6 L251.8 294.9 L253.6 296.1 L255.4 297.4 L257.2 298.6 L259.0 299.7 L260.9 300.8 L262.8 301.9 L264.7 303.0 L266.6 304.1 L268.5 305.1 L270.4 306.1 L272.4 307.0 L274.3 308.0 L276.3 308.9 L278.3 309.7 L280.3 310.5 L282.3 311.3 L284.3 312.0 L286.4 312.6 L288.5 313.3 L290.6 313.8 L292.8 314.3 L295.0 314.6 L297.1 314.9 L299.3 315.1 L301.5 315.2 L303.6 315.2 L305.8 315.0 L307.9 314.6 L310.0 314.1 L311.9 313.4 L311.9 311.9 L310.5 309.9 L308.9 308.1 L307.3 306.6 L305.6 305.2 L303.9 303.9 L302.1 302.8 L300.3 301.8 L298.4 300.8 L296.5 299.8 L294.5 298.8 L292.6 297.7 L290.7 296.6 L288.9 295.3 L287.4 293.8 L286.0 292.1 L284.6 290.4 L283.0 289.0 L281.0 287.9 L279.2 286.8 L277.7 285.3 L276.5 283.4 L275.3 281.6 L274.1 279.8 L272.7 278.1 L271.3 276.5 L269.7 275.0 L268.1 273.5 L266.5 272.1 L264.9 270.6 L263.2 269.2 L261.7 267.7 L260.2 266.2 L258.9 264.5 L257.7 262.7 L256.8 260.7 L256.0 258.6 L255.1 256.6 L254.3 254.6 L253.3 252.7 L252.2 250.9 L251.0 249.1 L249.8 247.3 L248.5 245.6 L247.2 243.8 L245.9 242.0 L244.7 240.2 L243.6 238.3 L242.7 236.4 L241.9 234.4 L241.3 232.4 L240.8 230.3 L240.3 228.2 L239.9 226.0 L239.5 223.9 L239.0 221.8 L238.4 219.7 L237.7 217.7 L236.8 215.7 L235.7 213.8 L234.6 211.9 L233.5 209.9 L232.6 208.0 L231.7 206.0 L231.0 204.0 L230.3 201.9 L229.7 199.8 L229.1 197.8 L228.6 195.7 L228.1 193.5 L227.7 191.4 L227.3 189.3 L226.9 187.2 L226.5 185.0 L226.2 182.9 L225.8 180.7 L225.5 178.6 L225.2 176.4 L225.0 174.3 L224.7 172.1 L224.5 170.0 L224.3 167.8 L224.1 165.6 L223.9 163.5 L223.7 161.3 L223.6 159.1 L223.4 157.0 L223.3 154.8 L223.1 152.6 L223.0 150.4 L222.9 148.3 L222.8 146.1 L222.7 143.9 L222.6 141.7 L222.5 139.6 L222.5 137.4 L222.4 135.2 L222.3 133.1 L222.3 130.9 L222.2 128.7 L222.2 126.5 L222.1 124.4 L222.1 122.2 L222.1 120.0 L222.1 117.9 L222.0 115.7 L222.0 113.5 L222.0 111.3 L222.0 109.2 L222.0 107.0 L222.0 104.8 L222.0 102.7 L222.0 100.5 L222.0 98.3 L222.0 96.2 L222.0 94.0 L222.0 91.8 L222.0 89.6 L222.0 87.5 L222.1 85.3 L222.1 83.1 L222.1 81.0 L222.1 78.8 L222.1 76.6 L222.1 74.4 L222.2 72.3 L222.2 70.1 L222.2 67.9 L222.2 65.8 L222.2 63.6 L222.2 61.4 L222.2 59.2 L222.2 57.1 L222.2 54.9 L222.2 52.7 L222.2 50.5 L222.1 48.4 L222.1 46.2 L222.1 44.0 L222.1 41.8 L222.0 39.7 L222.0 37.5 L221.9 35.3 L221.8 33.1 L221.8 30.9 L221.6 28.8 L221.4 26.6 L221.1 24.5 L220.5 22.4 L219.7 20.4 L218.6 18.5 Z" fill="#d6ecef"/>
<g clip-path="url(#tealDc)"><path d="M204.0 18.5 L202.5 20.2 L201.1 21.9 L199.8 23.8 L198.6 25.6 L197.3 27.5 L196.2 29.4 L195.0 31.4 L194.0 33.4 L192.9 35.4 L192.0 37.4 L191.0 39.5 L190.1 41.6 L189.3 43.7 L188.5 45.8 L187.8 47.9 L187.1 50.1 L186.5 52.2 L185.9 54.4 L185.4 56.6 L184.9 58.7 L184.4 60.9 L184.0 63.1 L183.6 65.3 L183.2 67.6 L182.9 69.8 L182.6 72.0 L182.3 74.2 L182.0 76.5 L181.7 78.7 L181.5 81.0 L181.2 83.2 L181.0 85.5 L180.8 87.7 L180.6 89.9 L180.4 92.2 L180.2 94.4 L179.9 96.7 L179.7 98.9 L179.5 101.2 L179.3 103.4 L179.1 105.7 L178.8 107.9 L178.7 110.2 L178.5 112.4 L178.3 114.6 L178.1 116.9 L178.0 119.1 L177.9 121.4 L177.8 123.6 L177.8 125.8 L177.8 128.1 L177.8 130.3 L177.8 132.6 L177.9 134.8 L178.0 137.1 L178.1 139.3 L178.3 141.6 L178.4 143.8 L178.6 146.1 L178.8 148.3 L178.9 150.6 L179.1 152.8 L179.3 155.1 L179.5 157.3 L179.7 159.6 L179.9 161.8 L180.1 164.1 L180.3 166.3 L180.6 168.6 L180.8 170.8 L181.1 173.0 L181.4 175.3 L181.7 177.5 L182.1 179.7 L182.5 181.9 L182.9 184.1 L183.3 186.3 L183.8 188.5 L184.3 190.7 L184.8 192.9 L185.4 195.1 L186.0 197.2 L186.6 199.4 L187.2 201.5 L187.9 203.7 L188.6 205.8 L189.3 207.9 L190.1 210.1 L190.8 212.2 L191.6 214.3 L192.4 216.4 L193.2 218.6 L193.9 220.7 L194.7 222.8 L195.5 224.9 L196.3 227.0 L197.1 229.1 L197.9 231.3 L198.6 233.4 L199.5 235.5 L200.3 237.5 L201.2 239.6 L202.1 241.6 L203.2 243.6 L204.3 245.5 L205.4 247.5 L206.6 249.4 L207.7 251.3 L208.9 253.3 L210.0 255.2 L211.1 257.2 L212.3 259.1 L213.5 261.0 L214.7 262.9 L215.9 264.8 L217.3 266.6 L218.7 268.3 L220.2 270.0 L221.7 271.7 L223.3 273.3 L224.8 274.9 L226.4 276.5 L228.0 278.1 L229.5 279.8 L231.0 281.5 L232.6 283.1 L234.1 284.7 L235.8 286.1 L237.6 287.5 L239.5 288.7 L241.4 290.0 L243.2 291.3 L245.0 292.6 L246.8 293.9 L248.6 295.2 L250.4 296.6 L252.2 297.9 L254.0 299.2 L255.9 300.6 L257.7 301.9 L259.6 303.1 L261.5 304.4 L263.4 305.6 L265.3 306.8 L267.3 307.9 L269.3 308.9 L271.3 309.9 L273.4 310.7 L275.5 311.5 L277.6 312.2 L279.7 312.9 L281.9 313.4 L284.1 314.0 L286.3 314.4 L288.5 314.8 L290.7 315.2 L293.0 315.6 L295.2 315.9 L297.4 316.2 L299.7 316.4 L301.9 316.6 L304.1 316.5 L306.3 316.3 L308.5 315.9 L310.6 315.3 L312.9 314.7 L315.3 314.4 L317.6 313.7 L318.7 312.4 L317.7 311.2 L315.4 310.8 L313.0 310.4 L310.9 310.0 L308.7 309.4 L306.6 308.6 L304.5 307.7 L302.5 306.7 L300.5 305.6 L298.6 304.5 L296.7 303.3 L294.9 302.0 L293.1 300.6 L291.3 299.3 L289.6 297.9 L287.8 296.5 L286.1 295.0 L284.3 293.6 L282.6 292.2 L280.8 290.8 L279.0 289.4 L277.2 288.0 L275.5 286.5 L274.1 284.9 L272.8 283.0 L271.8 280.9 L270.9 278.9 L269.7 276.9 L268.2 275.3 L266.4 273.8 L264.5 272.5 L262.5 271.3 L260.6 270.0 L258.8 268.6 L257.3 267.0 L256.1 265.2 L255.2 263.2 L254.5 261.0 L253.7 258.9 L252.7 256.9 L251.3 255.2 L249.7 253.7 L248.1 252.0 L246.7 250.3 L245.4 248.5 L244.2 246.6 L243.1 244.6 L242.1 242.6 L241.2 240.5 L240.4 238.4 L239.7 236.3 L239.0 234.2 L238.4 232.0 L237.7 229.9 L237.1 227.7 L236.4 225.6 L235.7 223.4 L234.9 221.3 L234.0 219.3 L233.1 217.2 L232.1 215.2 L231.1 213.1 L230.1 211.1 L229.1 209.1 L228.2 207.0 L227.4 204.9 L226.7 202.8 L226.0 200.7 L225.4 198.5 L224.9 196.4 L224.4 194.2 L224.0 192.0 L223.7 189.8 L223.4 187.6 L223.1 185.4 L222.9 183.1 L222.7 180.9 L222.5 178.6 L222.3 176.4 L222.2 174.1 L222.1 171.8 L221.9 169.6 L221.8 167.3 L221.7 165.0 L221.6 162.8 L221.4 160.5 L221.3 158.2 L221.2 156.0 L221.0 153.7 L220.9 151.5 L220.7 149.2 L220.5 147.0 L220.4 144.7 L220.2 142.5 L220.1 140.2 L219.9 138.0 L219.7 135.8 L219.6 133.5 L219.4 131.3 L219.3 129.0 L219.1 126.8 L219.0 124.6 L218.9 122.3 L218.8 120.1 L218.7 117.8 L218.6 115.6 L218.5 113.4 L218.4 111.1 L218.4 108.9 L218.3 106.6 L218.3 104.4 L218.3 102.1 L218.3 99.9 L218.3 97.7 L218.3 95.4 L218.4 93.2 L218.5 90.9 L218.6 88.6 L218.7 86.4 L218.8 84.1 L218.9 81.9 L219.0 79.6 L219.1 77.4 L219.2 75.1 L219.4 72.8 L219.5 70.6 L219.6 68.3 L219.7 66.1 L219.8 63.8 L219.8 61.6 L219.9 59.3 L219.9 57.1 L219.9 54.8 L219.9 52.6 L219.9 50.3 L219.8 48.1 L219.7 45.8 L219.5 43.6 L219.2 41.4 L218.9 39.2 L218.4 37.0 L217.7 34.9 L216.9 32.8 L216.0 30.7 L215.0 28.6 L213.9 26.6 L212.9 24.6 L211.8 22.5 L210.9 20.5 L210.0 18.5 Z" fill="#b3d9de"/></g>
<path d="M57.5 247.5 L58.0 248.6 L58.5 249.7 L59.0 250.8 L59.5 251.8 L60.0 252.9 L60.5 254.0 L61.1 255.1 L61.7 256.1 L62.2 257.2 L62.8 258.2 L63.4 259.2 L64.1 260.3 L64.7 261.3 L65.4 262.3 L66.0 263.3 L66.7 264.3 L67.4 265.2 L68.1 266.2 L68.8 267.1 L69.6 268.1 L70.3 269.0 L71.1 269.9 L71.9 270.8 L72.7 271.7 L73.5 272.6 L74.3 273.4 L75.1 274.3 L76.0 275.1 L76.8 276.0 L77.7 276.8 L78.6 277.6 L79.4 278.4 L80.3 279.2 L81.2 280.0 L82.1 280.8 L83.0 281.6 L83.9 282.3 L84.9 283.1 L85.8 283.9 L86.7 284.6 L87.6 285.4 L88.6 286.1 L89.5 286.9 L90.4 287.6 L91.4 288.4 L92.3 289.1 L93.3 289.9 L94.2 290.6 L95.2 291.3 L96.1 292.1 L97.1 292.8 L98.0 293.5 L99.0 294.2 L100.0 294.9 L101.0 295.6 L101.9 296.3 L102.9 297.0 L103.9 297.6 L104.9 298.3 L105.9 298.9 L106.9 299.6 L107.9 300.2 L109.0 300.8 L110.0 301.4 L111.0 302.0 L112.1 302.5 L113.1 303.1 L114.2 303.7 L115.2 304.2 L116.3 304.8 L117.3 305.3 L118.4 305.9 L119.5 306.4 L120.5 306.9 L121.6 307.5 L122.7 308.0 L123.7 308.5 L124.8 309.1 L125.9 309.6 L126.9 310.1 L128.0 310.7 L129.1 311.2 L130.1 311.8 L131.2 312.3 L132.3 312.9 L133.3 313.5 L134.4 314.0 L135.4 314.6 L136.5 315.1 L137.6 315.7 L138.6 316.3 L139.7 316.8 L140.7 317.4 L141.8 317.9 L142.9 318.5 L143.9 319.0 L145.0 319.6 L146.1 320.1 L147.2 320.6 L148.2 321.1 L149.3 321.6 L150.4 322.1 L151.5 322.6 L152.6 323.1 L153.7 323.5 L154.8 323.9 L155.9 324.4 L157.0 324.8 L158.2 325.1 L159.3 325.5 L160.4 325.9 L161.6 326.2 L162.7 326.5 L163.9 326.9 L165.0 327.2 L166.2 327.5 L167.3 327.8 L168.5 328.0 L169.6 328.3 L170.8 328.6 L172.0 328.8 L173.2 329.1 L174.3 329.3 L175.5 329.6 L176.7 329.8 L177.9 330.0 L179.0 330.2 L180.2 330.5 L181.4 330.7 L182.6 330.9 L183.7 331.1 L184.9 331.3 L186.1 331.5 L187.3 331.7 L188.5 331.9 L189.6 332.1 L190.8 332.3 L192.0 332.5 L193.2 332.7 L194.4 332.9 L195.6 333.1 L196.7 333.3 L197.9 333.5 L199.1 333.6 L200.3 333.8 L201.5 334.0 L202.7 334.2 L203.8 334.4 L205.0 334.5 L206.2 334.7 L207.4 334.9 L208.6 335.0 L209.8 335.2 L210.9 335.3 L212.1 335.5 L213.3 335.7 L214.5 335.8 L215.7 336.0 L216.9 336.1 L218.1 336.3 L219.3 336.4 L220.4 336.5 L221.6 336.7 L222.8 336.8 L224.0 337.0 L225.2 337.1 L226.4 337.2 L227.6 337.4 L228.8 337.5 L229.9 337.6 L231.1 337.7 L232.3 337.9 L233.5 338.0 L234.7 338.1 L235.9 338.2 L237.1 338.3 L238.3 338.5 L239.5 338.6 L240.7 338.7 L241.8 338.8 L243.0 338.9 L244.2 339.0 L245.4 339.1 L246.6 339.2 L247.8 339.3 L249.0 339.4 L250.2 339.5 L251.4 339.6 L252.6 339.7 L253.8 339.8 L254.9 339.9 L256.1 340.0 L257.3 340.1 L258.5 340.2 L259.7 340.3 L260.9 340.3 L262.1 340.4 L263.3 340.5 L264.5 340.6 L265.7 340.7 L266.9 340.8 L268.1 340.8 L269.3 340.9 L270.4 341.0 L271.6 341.1 L272.8 341.1 L274.0 341.2 L275.2 341.3 L276.4 341.3 L277.6 341.4 L278.8 341.5 L280.0 341.5 L281.2 341.6 L282.4 341.7 L283.6 341.7 L284.8 341.8 L286.0 341.8 L287.2 341.9 L288.4 342.0 L289.6 342.0 L290.7 342.1 L291.9 342.1 L293.1 342.2 L294.3 342.2 L295.5 342.3 L296.7 342.3 L297.9 342.4 L299.1 342.4 L300.3 342.5 L301.5 342.5 L302.7 342.6 L303.9 342.6 L305.1 342.6 L306.3 342.7 L307.5 342.7 L308.7 342.8 L309.9 342.8 L311.1 342.9 L312.3 342.9 L313.5 342.9 L314.7 343.0 L315.8 343.0 L317.0 343.0 L318.2 343.1 L319.4 343.1 L320.6 343.1 L321.8 343.2 L323.0 343.2 L324.2 343.2 L325.4 343.3 L326.6 343.3 L327.8 343.3 L329.0 343.4 L330.2 343.4 L331.4 343.4 L332.6 343.4 L333.8 343.5 L335.0 343.5 L336.2 343.5 L337.4 343.6 L338.6 343.6 L339.8 343.6 L341.0 343.6 L342.2 343.7 L343.4 343.7 L344.5 343.7 L345.7 343.7 L346.9 343.8 L348.1 343.8 L349.3 343.8 L350.5 343.8 L351.7 343.8 L352.9 343.9 L354.1 343.9 L355.3 343.9 L356.5 343.9 L357.7 344.0 L358.9 344.0 L360.1 344.0 L361.3 344.0 L362.5 344.0 L363.7 344.1 L364.9 344.1 L366.1 344.1 L367.3 344.1 L368.5 344.1 L369.7 344.2 L370.9 344.2 L372.0 344.2 L373.2 344.2 L374.4 344.2 L375.6 344.3 L376.8 344.3 L378.0 344.3 L379.2 344.3 L380.4 344.4 L381.6 344.4 L382.8 344.4 L384.0 344.5" fill="none" stroke="#9fa3a1" stroke-width="1.7" stroke-dasharray="6.6 4.825" stroke-dashoffset="4.8"/>
<path d="M57.5 245.7 L58.3 247.4 L59.1 249.2 L60.0 250.9 L60.9 252.6 L61.7 254.3 L62.7 256.0 L63.6 257.7 L64.6 259.4 L65.7 261.0 L66.7 262.6 L67.8 264.2 L69.0 265.7 L70.2 267.2 L71.4 268.7 L72.6 270.1 L73.8 271.6 L75.0 273.1 L76.3 274.6 L77.5 276.1 L78.7 277.5 L79.9 279.0 L81.1 280.5 L82.4 281.9 L83.7 283.3 L85.1 284.7 L86.4 286.0 L87.9 287.3 L89.3 288.6 L90.8 289.8 L92.3 291.0 L93.8 292.2 L95.3 293.4 L96.8 294.6 L98.4 295.8 L99.9 297.0 L101.4 298.2 L103.0 299.3 L104.6 300.4 L106.2 301.5 L107.8 302.5 L109.4 303.5 L111.1 304.5 L112.8 305.4 L114.4 306.4 L116.2 307.2 L117.9 308.1 L119.6 308.9 L121.4 309.7 L123.1 310.5 L124.9 311.3 L126.7 312.0 L128.4 312.8 L130.2 313.5 L132.0 314.3 L133.8 315.0 L135.6 315.7 L137.4 316.4 L139.2 317.1 L141.0 317.8 L142.8 318.5 L144.6 319.1 L146.4 319.8 L148.2 320.4 L150.1 321.0 L151.9 321.6 L153.7 322.2 L155.6 322.8 L157.4 323.3 L159.3 323.8 L161.1 324.4 L163.0 324.9 L164.8 325.3 L166.7 325.8 L168.6 326.2 L170.5 326.6 L172.3 327.1 L174.2 327.5 L176.1 327.8 L178.0 328.2 L179.9 328.5 L181.8 328.9 L183.7 329.2 L185.6 329.5 L187.5 329.8 L189.4 330.1 L191.3 330.4 L193.2 330.7 L195.1 330.9 L197.0 331.2 L198.9 331.4 L200.9 331.6 L202.8 331.8 L204.7 332.1 L206.6 332.3 L208.5 332.5 L210.4 332.6 L212.4 332.8 L214.3 333.0 L216.2 333.2 L218.1 333.3 L220.0 333.5 L222.0 333.6 L223.9 333.8 L225.8 333.9 L227.7 334.0 L229.7 334.1 L231.6 334.3 L233.5 334.4 L235.4 334.5 L237.3 334.6 L239.3 334.7 L241.2 334.7 L243.1 334.8 L245.0 334.9 L247.0 335.0 L248.9 335.0 L250.8 335.1 L252.8 335.2 L254.7 335.2 L256.6 335.3 L258.5 335.3 L260.5 335.4 L262.4 335.4 L264.3 335.4 L266.2 335.5 L268.2 335.5 L270.1 335.5 L272.0 335.5 L273.9 335.6 L275.9 335.6 L277.8 335.6 L279.7 335.6 L281.6 335.6 L283.6 335.6 L285.5 335.6 L287.4 335.6 L289.3 335.6 L291.3 335.6 L293.2 335.6 L295.1 335.6 L297.0 335.6 L298.9 335.6 L300.9 335.6 L302.8 335.6 L304.7 335.6 L306.6 335.6 L308.5 335.6 L310.5 335.6 L312.4 335.6 L314.3 335.5 L316.2 335.5 L318.2 335.5 L320.1 335.4 L322.0 335.4 L323.9 335.3 L325.9 335.3 L327.8 335.2 L329.7 335.1 L331.6 335.0 L333.6 334.9 L335.5 334.8 L337.4 334.7 L339.4 334.6 L341.3 334.4 L343.3 334.3 L345.2 334.1 L347.1 333.9 L349.1 333.7 L350.9 333.2 L352.6 332.5 L354.0 331.2 L355.0 329.6 L355.5 327.7 L355.5 325.8 L354.9 324.1 L353.8 322.9 L352.1 322.1 L350.2 321.5 L348.3 320.9 L346.4 320.3 L344.6 319.7 L342.9 319.0 L341.1 318.2 L339.5 317.3 L337.9 316.3 L336.3 315.2 L334.7 314.1 L333.1 313.0 L331.4 311.9 L329.8 311.0 L328.1 310.1 L326.4 309.2 L324.7 308.3 L323.0 307.4 L321.4 306.4 L319.8 305.4 L318.2 304.3 L316.6 303.2 L315.0 302.0 L313.5 300.9 L312.0 299.7 L310.4 298.5 L308.9 297.3 L307.5 296.1 L306.0 294.9 L304.5 293.7 L303.0 292.5 L301.5 291.3 L300.0 290.1 L298.5 288.9 L297.0 287.7 L295.4 286.5 L293.9 285.4 L292.4 284.2 L290.9 283.0 L289.4 281.7 L287.9 280.5 L286.5 279.1 L285.2 277.7 L283.9 276.3 L282.7 274.8 L281.6 273.2 L280.6 271.6 L279.5 270.0 L278.6 268.4 L277.6 266.7 L276.6 265.0 L275.6 263.4 L274.6 261.7 L273.7 260.1 L272.6 258.4 L271.6 256.8 L270.6 255.1 L269.6 253.5 L268.6 251.8 L267.6 250.2 L266.7 248.5 L265.7 246.8 L264.8 245.1 L263.9 243.5 L263.0 241.8 L262.1 240.0 L261.3 238.3 L260.4 236.6 L259.7 234.8 L258.9 233.1 L258.2 231.3 L257.5 229.5 L256.8 227.7 L256.1 225.9 L255.4 224.1 L254.7 222.3 L254.1 220.5 L253.4 218.7 L252.8 216.9 L252.1 215.1 L251.5 213.2 L250.8 211.4 L250.2 209.6 L249.5 207.8 L248.9 205.9 L248.3 204.1 L247.7 202.3 L247.1 200.4 L246.6 198.6 L246.1 196.7 L245.6 194.9 L245.2 193.0 L244.9 191.1 L244.5 189.3 L244.2 187.4 L243.9 185.5 L243.7 183.5 L243.5 181.6 L243.3 179.7 L243.1 177.8 L242.9 175.9 L242.7 174.0 L242.5 172.0 L242.3 170.1 L242.0 168.2 L241.8 166.3 L241.6 164.4 L241.4 162.4 L241.2 160.5 L241.0 158.6 L240.8 156.7 L240.6 154.8 L240.4 152.8 L240.3 150.9 L240.1 149.0 L239.9 147.1 L239.8 145.1 L239.7 143.2 L239.6 141.3 L239.4 139.4 L239.4 137.5 L239.3 135.5 L239.2 133.6 L239.2 131.7 L239.2 129.8 L239.2 127.9 L239.2 125.9 L239.2 124.0 L239.2 122.1 L239.3 120.2 L239.3 118.2 L239.4 116.3 L239.5 114.4 L239.6 112.5 L239.7 110.6 L239.8 108.6 L239.9 106.7 L240.0 104.8 L240.1 102.9 L240.3 100.9 L240.4 99.0 L240.5 97.1 L240.7 95.2 L240.8 93.3 L241.0 91.3 L241.1 89.4 L241.3 87.5 L241.4 85.6 L241.6 83.6 L241.8 81.7 L241.9 79.8 L242.1 77.9 L242.2 76.0 L242.4 74.0 L242.5 72.1 L242.7 70.2 L242.8 68.3 L242.9 66.3 L243.1 64.4 L243.2 62.5 L243.3 60.6 L243.4 58.7 L243.5 56.7 L243.6 54.8 L243.7 52.9 L243.8 51.0 L243.8 49.1 L243.9 47.1 L244.0 45.2 L244.0 43.3 L244.1 41.4 L244.2 39.4 L244.3 37.5 L244.4 35.6 L244.5 33.7 L244.7 31.7 L244.8 29.8 L245.0 27.9 L245.0 26.0 L245.0 24.1 L244.8 22.2 L244.3 20.3 L243.5 18.5" fill="none" stroke="#d4337a" stroke-width="1.7"/>
<path d="M57.5 222.3 L58.1 224.2 L58.7 226.0 L59.4 227.9 L60.0 229.7 L60.7 231.6 L61.5 233.4 L62.2 235.2 L63.0 237.0 L63.8 238.8 L64.6 240.6 L65.4 242.3 L66.3 244.1 L67.2 245.9 L68.1 247.6 L69.0 249.3 L69.9 251.1 L70.9 252.8 L71.9 254.4 L72.9 256.1 L74.0 257.8 L75.0 259.4 L76.1 261.1 L77.2 262.7 L78.4 264.3 L79.5 265.9 L80.7 267.5 L81.9 269.0 L83.1 270.5 L84.4 272.1 L85.6 273.6 L86.9 275.1 L88.2 276.5 L89.6 278.0 L90.9 279.4 L92.3 280.8 L93.7 282.2 L95.1 283.5 L96.5 284.9 L98.0 286.2 L99.5 287.5 L101.0 288.7 L102.5 290.0 L104.1 291.2 L105.6 292.4 L107.2 293.5 L108.8 294.6 L110.4 295.7 L112.1 296.8 L113.7 297.8 L115.4 298.9 L117.1 299.8 L118.8 300.8 L120.6 301.7 L122.3 302.6 L124.0 303.6 L125.8 304.5 L127.5 305.4 L129.3 306.3 L131.0 307.3 L132.7 308.2 L134.4 309.2 L136.1 310.2 L137.8 311.2 L139.5 312.1 L141.2 313.0 L143.0 313.9 L144.7 314.8 L146.5 315.6 L148.3 316.4 L150.1 317.1 L152.0 317.8 L153.8 318.5 L155.7 319.1 L157.5 319.7 L159.4 320.3 L161.3 320.9 L163.2 321.4 L165.1 321.9 L167.0 322.4 L168.9 322.8 L170.8 323.2 L172.8 323.7 L174.7 324.0 L176.6 324.4 L178.5 324.8 L180.5 325.1 L182.4 325.4 L184.3 325.8 L186.3 326.1 L188.2 326.4 L190.2 326.7 L192.1 326.9 L194.0 327.2 L196.0 327.5 L197.9 327.8 L199.9 328.0 L201.8 328.3 L203.8 328.6 L205.7 328.9 L207.7 329.2 L209.6 329.4 L211.5 329.7 L213.5 330.0 L215.4 330.3 L217.4 330.6 L219.3 330.8 L221.3 331.1 L223.2 331.4 L225.2 331.6 L227.1 331.9 L229.1 332.1 L231.0 332.3 L233.0 332.5 L234.9 332.7 L236.9 332.9 L238.8 333.1 L240.8 333.2 L242.7 333.4 L244.7 333.5 L246.6 333.7 L248.6 333.8 L250.6 333.9 L252.5 334.0 L254.5 334.1 L256.4 334.2 L258.4 334.3 L260.4 334.3 L262.3 334.4 L264.3 334.5 L266.2 334.5 L268.2 334.6 L270.2 334.6 L272.1 334.6 L274.1 334.7 L276.1 334.7 L278.0 334.7 L280.0 334.7 L282.0 334.7 L283.9 334.7 L285.9 334.7 L287.9 334.8 L289.8 334.8 L291.8 334.8 L293.7 334.7 L295.7 334.7 L297.7 334.7 L299.6 334.7 L301.6 334.7 L303.6 334.7 L305.5 334.7 L307.5 334.7 L309.4 334.7 L311.4 334.7 L313.4 334.7 L315.3 334.6 L317.3 334.6 L319.2 334.6 L321.2 334.6 L323.2 334.5 L325.1 334.5 L327.1 334.4 L329.0 334.4 L331.0 334.3 L333.0 334.3 L334.9 334.2 L336.9 334.1 L338.9 334.0 L340.8 333.9 L342.8 333.7 L344.7 333.5 L346.7 333.2 L348.6 332.8 L350.6 332.4 L352.4 331.8 L354.2 331.0 L355.5 329.8 L356.2 328.0 L356.3 325.9" fill="none" stroke="#d83c82" stroke-width="1.8" stroke-dasharray="7 4.4" stroke-dashoffset="1.70"/>
<path d="M356.3 325.9 L355.8 324.0 L354.6 322.5 L353.0 321.6 L351.2 320.9 L349.2 320.3 L347.3 319.8 L345.4 319.3 L343.6 318.6 L341.9 317.6 L340.3 316.6 L338.7 315.4 L337.1 314.2 L335.5 313.0 L333.9 311.9 L332.2 310.9 L330.4 310.1 L328.6 309.4 L326.7 308.6 L325.0 307.7 L323.4 306.6 L321.9 305.4 L320.3 304.2 L318.7 303.0 L317.1 301.9 L315.5 300.8 L313.9 299.7 L312.2 298.6 L310.7 297.4 L309.1 296.3 L307.6 295.0 L306.1 293.8 L304.7 292.4 L303.3 291.1 L301.8 289.7 L300.3 288.4 L298.7 287.3 L297.0 286.2 L295.3 285.1 L293.7 284.0 L292.1 282.8 L290.8 281.5 L289.7 279.9 L288.8 278.2 L288.0 276.4 L287.1 274.6 L286.1 272.9 L285.0 271.3 L283.8 269.8 L282.5 268.2 L281.3 266.7 L280.1 265.1 L279.0 263.5 L278.0 261.8 L277.1 260.1 L276.2 258.3 L275.3 256.6 L274.5 254.8 L273.6 253.0 L272.7 251.3 L271.7 249.6 L270.6 248.0 L269.5 246.4 L268.3 244.8 L267.1 243.2 L266.0 241.6 L264.9 240.0 L263.9 238.3 L263.0 236.6 L262.2 234.8 L261.4 233.1 L260.7 231.3 L260.1 229.4 L259.4 227.6 L258.8 225.7 L258.3 223.8 L257.7 222.0 L257.2 220.1 L256.7 218.2 L256.2 216.3 L255.7 214.4 L255.1 212.5 L254.6 210.6 L254.1 208.7 L253.6 206.8 L253.0 204.9 L252.5 203.0 L251.9 201.1 L251.4 199.3 L250.8 197.4 L250.3 195.5 L249.7 193.6 L249.2 191.7 L248.7 189.8 L248.2 187.9 L247.8 186.0 L247.3 184.1 L246.9 182.2 L246.5 180.3 L246.1 178.3 L245.7 176.4 L245.4 174.5 L245.1 172.6 L244.8 170.6 L244.5 168.7 L244.2 166.7 L244.0 164.8 L243.7 162.8 L243.5 160.9 L243.3 158.9 L243.1 157.0 L242.9 155.0 L242.8 153.1 L242.6 151.1 L242.5 149.2 L242.3 147.2 L242.2 145.2 L242.1 143.3 L242.0 141.3 L241.9 139.4 L241.8 137.4 L241.7 135.4 L241.7 133.5 L241.6 131.5 L241.6 129.6 L241.6 127.6 L241.5 125.6 L241.5 123.7 L241.5 121.7 L241.6 119.7 L241.6 117.8 L241.6 115.8 L241.7 113.9 L241.7 111.9 L241.8 109.9 L241.9 108.0 L241.9 106.0 L242.0 104.1 L242.1 102.1 L242.2 100.1 L242.4 98.2 L242.5 96.2 L242.6 94.3 L242.8 92.3 L243.0 90.3 L243.1 88.4 L243.3 86.4 L243.5 84.5 L243.7 82.5 L243.9 80.6 L244.1 78.6 L244.3 76.7 L244.6 74.7 L244.8 72.8 L245.1 70.8 L245.3 68.9 L245.6 66.9 L245.8 65.0 L246.1 63.0 L246.4 61.1 L246.7 59.1 L247.0 57.2 L247.2 55.2 L247.5 53.3 L247.8 51.4 L248.0 49.4 L248.2 47.5 L248.5 45.5 L248.7 43.6 L248.9 41.6 L249.1 39.7 L249.2 37.7 L249.4 35.8 L249.5 33.8 L249.6 31.9 L249.5 29.9 L249.3 28.0 L248.8 26.1 L248.0 24.2 L247.1 22.3 L246.5 20.4 L246.7 18.5" fill="none" stroke="#d83c82" stroke-width="1.8" stroke-dasharray="7 4.4" stroke-dashoffset="6.83"/>
<path d="M204.0 18.5 L202.5 20.2 L201.1 21.9 L199.8 23.8 L198.6 25.6 L197.3 27.5 L196.2 29.4 L195.0 31.4 L194.0 33.4 L192.9 35.4 L192.0 37.4 L191.0 39.5 L190.1 41.6 L189.3 43.7 L188.5 45.8 L187.8 47.9 L187.1 50.1 L186.5 52.2 L185.9 54.4 L185.4 56.6 L184.9 58.7 L184.4 60.9 L184.0 63.1 L183.6 65.3 L183.2 67.6 L182.9 69.8 L182.6 72.0 L182.3 74.2 L182.0 76.5 L181.7 78.7 L181.5 81.0 L181.2 83.2 L181.0 85.5 L180.8 87.7 L180.6 89.9 L180.4 92.2 L180.2 94.4 L179.9 96.7 L179.7 98.9 L179.5 101.2 L179.3 103.4 L179.1 105.7 L178.8 107.9 L178.7 110.2 L178.5 112.4 L178.3 114.6 L178.1 116.9 L178.0 119.1 L177.9 121.4 L177.8 123.6 L177.8 125.8 L177.8 128.1 L177.8 130.3 L177.8 132.6 L177.9 134.8 L178.0 137.1 L178.1 139.3 L178.3 141.6 L178.4 143.8 L178.6 146.1 L178.8 148.3 L178.9 150.6 L179.1 152.8 L179.3 155.1 L179.5 157.3 L179.7 159.6 L179.9 161.8 L180.1 164.1 L180.3 166.3 L180.6 168.6 L180.8 170.8 L181.1 173.0 L181.4 175.3 L181.7 177.5 L182.1 179.7 L182.5 181.9 L182.9 184.1 L183.3 186.3 L183.8 188.5 L184.3 190.7 L184.8 192.9 L185.4 195.1 L186.0 197.2 L186.6 199.4 L187.2 201.5 L187.9 203.7 L188.6 205.8 L189.3 207.9 L190.1 210.1 L190.8 212.2 L191.6 214.3 L192.4 216.4 L193.2 218.6 L193.9 220.7 L194.7 222.8 L195.5 224.9 L196.3 227.0 L197.1 229.1 L197.9 231.3 L198.6 233.4 L199.5 235.5 L200.3 237.5 L201.2 239.6 L202.1 241.6 L203.2 243.6 L204.3 245.5 L205.4 247.5 L206.6 249.4 L207.7 251.3 L208.9 253.3 L210.0 255.2 L211.1 257.2 L212.3 259.1 L213.5 261.0 L214.7 262.9 L215.9 264.8 L217.3 266.6 L218.7 268.3 L220.2 270.0 L221.7 271.7 L223.3 273.3 L224.8 274.9 L226.4 276.5 L228.0 278.1 L229.5 279.8 L231.0 281.5 L232.6 283.1 L234.1 284.7 L235.8 286.1 L237.6 287.5 L239.5 288.7 L241.4 290.0 L243.2 291.3 L245.0 292.6 L246.8 293.9 L248.6 295.2 L250.4 296.6 L252.2 297.9 L254.0 299.2 L255.9 300.6 L257.7 301.9 L259.6 303.1 L261.5 304.4 L263.4 305.6 L265.3 306.8 L267.3 307.9 L269.3 308.9 L271.3 309.9 L273.4 310.7 L275.5 311.5 L277.6 312.2 L279.7 312.9 L281.9 313.4 L284.1 314.0 L286.3 314.4 L288.5 314.8 L290.7 315.2 L293.0 315.6 L295.2 315.9 L297.4 316.2 L299.7 316.4 L301.9 316.6 L304.1 316.5 L306.3 316.3 L308.5 315.9 L310.6 315.3 L312.9 314.7 L315.3 314.4 L317.6 313.7 L318.7 312.4 L317.7 311.2 L315.4 310.8 L313.0 310.4 L310.9 310.0 L308.7 309.4 L306.6 308.6 L304.5 307.7 L302.5 306.7 L300.5 305.6 L298.6 304.5 L296.7 303.3 L294.9 302.0 L293.1 300.6 L291.3 299.3 L289.6 297.9 L287.8 296.5 L286.1 295.0 L284.3 293.6 L282.6 292.2 L280.8 290.8 L279.0 289.4 L277.2 288.0 L275.5 286.5 L274.1 284.9 L272.8 283.0 L271.8 280.9 L270.9 278.9 L269.7 276.9 L268.2 275.3 L266.4 273.8 L264.5 272.5 L262.5 271.3 L260.6 270.0 L258.8 268.6 L257.3 267.0 L256.1 265.2 L255.2 263.2 L254.5 261.0 L253.7 258.9 L252.7 256.9 L251.3 255.2 L249.7 253.7 L248.1 252.0 L246.7 250.3 L245.4 248.5 L244.2 246.6 L243.1 244.6 L242.1 242.6 L241.2 240.5 L240.4 238.4 L239.7 236.3 L239.0 234.2 L238.4 232.0 L237.7 229.9 L237.1 227.7 L236.4 225.6 L235.7 223.4 L234.9 221.3 L234.0 219.3 L233.1 217.2 L232.1 215.2 L231.1 213.1 L230.1 211.1 L229.1 209.1 L228.2 207.0 L227.4 204.9 L226.7 202.8 L226.0 200.7 L225.4 198.5 L224.9 196.4 L224.4 194.2 L224.0 192.0 L223.7 189.8 L223.4 187.6 L223.1 185.4 L222.9 183.1 L222.7 180.9 L222.5 178.6 L222.3 176.4 L222.2 174.1 L222.1 171.8 L221.9 169.6 L221.8 167.3 L221.7 165.0 L221.6 162.8 L221.4 160.5 L221.3 158.2 L221.2 156.0 L221.0 153.7 L220.9 151.5 L220.7 149.2 L220.5 147.0 L220.4 144.7 L220.2 142.5 L220.1 140.2 L219.9 138.0 L219.7 135.8 L219.6 133.5 L219.4 131.3 L219.3 129.0 L219.1 126.8 L219.0 124.6 L218.9 122.3 L218.8 120.1 L218.7 117.8 L218.6 115.6 L218.5 113.4 L218.4 111.1 L218.4 108.9 L218.3 106.6 L218.3 104.4 L218.3 102.1 L218.3 99.9 L218.3 97.7 L218.3 95.4 L218.4 93.2 L218.5 90.9 L218.6 88.6 L218.7 86.4 L218.8 84.1 L218.9 81.9 L219.0 79.6 L219.1 77.4 L219.2 75.1 L219.4 72.8 L219.5 70.6 L219.6 68.3 L219.7 66.1 L219.8 63.8 L219.8 61.6 L219.9 59.3 L219.9 57.1 L219.9 54.8 L219.9 52.6 L219.9 50.3 L219.8 48.1 L219.7 45.8 L219.5 43.6 L219.2 41.4 L218.9 39.2 L218.4 37.0 L217.7 34.9 L216.9 32.8 L216.0 30.7 L215.0 28.6 L213.9 26.6 L212.9 24.6 L211.8 22.5 L210.9 20.5 L210.0 18.5" fill="none" stroke="#2b93a0" stroke-width="1.65"/>
<path d="M202.0 18.5 L201.6 20.6 L201.0 22.7 L200.4 24.8 L199.8 26.9 L199.0 28.9 L198.3 30.9 L197.4 33.0 L196.6 35.0 L195.7 37.0 L194.8 39.0 L194.0 41.0 L193.1 43.0 L192.2 45.0 L191.4 47.0 L190.7 49.1 L190.0 51.1 L189.3 53.2 L188.7 55.2 L188.2 57.3 L187.7 59.4 L187.3 61.5 L186.9 63.7 L186.6 65.8 L186.3 67.9 L186.0 70.1 L185.8 72.2 L185.6 74.4 L185.4 76.6 L185.3 78.7 L185.1 80.9 L185.0 83.1 L184.8 85.3 L184.7 87.4 L184.6 89.6 L184.4 91.8 L184.3 94.0 L184.1 96.2 L183.9 98.3 L183.7 100.5 L183.5 102.7 L183.4 104.8 L183.2 107.0 L183.0 109.2 L182.9 111.3 L182.7 113.5 L182.6 115.7 L182.5 117.8 L182.5 120.0 L182.4 122.2 L182.4 124.3 L182.4 126.5 L182.4 128.7 L182.4 130.8 L182.5 133.0 L182.5 135.2 L182.6 137.4 L182.7 139.5 L182.8 141.7 L182.9 143.9 L183.0 146.0 L183.1 148.2 L183.2 150.4 L183.4 152.6 L183.5 154.7 L183.7 156.9 L183.8 159.1 L184.0 161.2 L184.1 163.4 L184.3 165.6 L184.5 167.8 L184.6 169.9 L184.9 172.1 L185.1 174.3 L185.4 176.4 L185.7 178.5 L186.1 180.7 L186.6 182.8 L187.1 184.9 L187.7 187.0 L188.4 189.0 L189.1 191.1 L189.8 193.1 L190.5 195.2 L191.2 197.3 L191.9 199.3 L192.5 201.4 L193.2 203.5 L193.8 205.5 L194.5 207.6 L195.1 209.7 L195.7 211.8 L196.4 213.8 L197.0 215.9 L197.7 218.0 L198.3 220.0 L199.0 222.1 L199.7 224.2 L200.4 226.2 L201.1 228.3 L201.9 230.3 L202.7 232.3 L203.6 234.3 L204.5 236.3 L205.5 238.2 L206.6 240.1 L207.7 242.0 L208.9 243.8 L210.0 245.6 L211.2 247.5 L212.3 249.3 L213.4 251.2 L214.4 253.2 L215.4 255.1 L216.4 257.0 L217.5 258.9 L218.7 260.7 L219.9 262.5 L221.2 264.2 L222.6 265.9 L224.0 267.5 L225.5 269.2 L226.9 270.8 L228.4 272.3 L229.9 273.9 L231.4 275.5 L232.9 277.0 L234.5 278.6 L236.0 280.1 L237.5 281.7 L239.0 283.3 L240.5 284.8 L242.0 286.4 L243.5 287.9 L245.1 289.4 L246.7 290.8 L248.4 292.2 L250.1 293.6 L251.8 294.9 L253.6 296.1 L255.4 297.4 L257.2 298.6 L259.0 299.7 L260.9 300.8 L262.8 301.9 L264.7 303.0 L266.6 304.1 L268.5 305.1 L270.4 306.1 L272.4 307.0 L274.3 308.0 L276.3 308.9 L278.3 309.7 L280.3 310.5 L282.3 311.3 L284.3 312.0 L286.4 312.6 L288.5 313.3 L290.6 313.8 L292.8 314.3 L295.0 314.6 L297.1 314.9 L299.3 315.1 L301.5 315.2 L303.6 315.2 L305.8 315.0 L307.9 314.6 L310.0 314.1 L311.9 313.4 L311.9 311.9 L310.5 309.9 L308.9 308.1 L307.3 306.6 L305.6 305.2 L303.9 303.9 L302.1 302.8 L300.3 301.8 L298.4 300.8 L296.5 299.8 L294.5 298.8 L292.6 297.7 L290.7 296.6 L288.9 295.3 L287.4 293.8 L286.0 292.1 L284.6 290.4 L283.0 289.0 L281.0 287.9 L279.2 286.8 L277.7 285.3 L276.5 283.4 L275.3 281.6 L274.1 279.8 L272.7 278.1 L271.3 276.5 L269.7 275.0 L268.1 273.5 L266.5 272.1 L264.9 270.6 L263.2 269.2 L261.7 267.7 L260.2 266.2 L258.9 264.5 L257.7 262.7 L256.8 260.7 L256.0 258.6 L255.1 256.6 L254.3 254.6 L253.3 252.7 L252.2 250.9 L251.0 249.1 L249.8 247.3 L248.5 245.6 L247.2 243.8 L245.9 242.0 L244.7 240.2 L243.6 238.3 L242.7 236.4 L241.9 234.4 L241.3 232.4 L240.8 230.3 L240.3 228.2 L239.9 226.0 L239.5 223.9 L239.0 221.8 L238.4 219.7 L237.7 217.7 L236.8 215.7 L235.7 213.8 L234.6 211.9 L233.5 209.9 L232.6 208.0 L231.7 206.0 L231.0 204.0 L230.3 201.9 L229.7 199.8 L229.1 197.8 L228.6 195.7 L228.1 193.5 L227.7 191.4 L227.3 189.3 L226.9 187.2 L226.5 185.0 L226.2 182.9 L225.8 180.7 L225.5 178.6 L225.2 176.4 L225.0 174.3 L224.7 172.1 L224.5 170.0 L224.3 167.8 L224.1 165.6 L223.9 163.5 L223.7 161.3 L223.6 159.1 L223.4 157.0 L223.3 154.8 L223.1 152.6 L223.0 150.4 L222.9 148.3 L222.8 146.1 L222.7 143.9 L222.6 141.7 L222.5 139.6 L222.5 137.4 L222.4 135.2 L222.3 133.1 L222.3 130.9 L222.2 128.7 L222.2 126.5 L222.1 124.4 L222.1 122.2 L222.1 120.0 L222.1 117.9 L222.0 115.7 L222.0 113.5 L222.0 111.3 L222.0 109.2 L222.0 107.0 L222.0 104.8 L222.0 102.7 L222.0 100.5 L222.0 98.3 L222.0 96.2 L222.0 94.0 L222.0 91.8 L222.0 89.6 L222.0 87.5 L222.1 85.3 L222.1 83.1 L222.1 81.0 L222.1 78.8 L222.1 76.6 L222.1 74.4 L222.2 72.3 L222.2 70.1 L222.2 67.9 L222.2 65.8 L222.2 63.6 L222.2 61.4 L222.2 59.2 L222.2 57.1 L222.2 54.9 L222.2 52.7 L222.2 50.5 L222.1 48.4 L222.1 46.2 L222.1 44.0 L222.1 41.8 L222.0 39.7 L222.0 37.5 L221.9 35.3 L221.8 33.1 L221.8 30.9 L221.6 28.8 L221.4 26.6 L221.1 24.5 L220.5 22.4 L219.7 20.4 L218.6 18.5" fill="none" stroke="#2b93a0" stroke-width="1.65" stroke-dasharray="7 4.5"/>
<path d="M58.3 19 V27.5" stroke="#d4337a" stroke-width="1.3" fill="none"/>
<g clip-path="url(#nmc)" stroke="#9fa3a1" stroke-width="1.7" stroke-dasharray="6.6 4.825" fill="none">
<path d="M39.20 79.16 L386.00 -217.70"/>
<path d="M39.11 149.45 L386.00 -147.50"/>
<path d="M39.27 219.51 L386.00 -77.30"/>
<path d="M37.47 291.25 L386.00 -7.10"/>
<path d="M40.69 358.69 L386.00 63.10"/>
<path d="M40.86 428.75 L386.00 133.30"/>
<path d="M40.78 499.01 L386.00 203.50"/>
<path d="M40.94 569.07 L386.00 273.70"/>
</g>
<g clip-path="url(#nmc)"><g clip-path="url(#tealU)" stroke="#bfb0b3" stroke-width="1.7" stroke-dasharray="6.6 4.825" fill="none">
<path d="M39.20 79.16 L386.00 -217.70"/>
<path d="M39.11 149.45 L386.00 -147.50"/>
<path d="M39.27 219.51 L386.00 -77.30"/>
<path d="M37.47 291.25 L386.00 -7.10"/>
<path d="M40.69 358.69 L386.00 63.10"/>
<path d="M40.86 428.75 L386.00 133.30"/>
<path d="M40.78 499.01 L386.00 203.50"/>
<path d="M40.94 569.07 L386.00 273.70"/>
</g></g>
<g clip-path="url(#skc)" stroke="#4e4e50" stroke-width="1.55" fill="none">
<path d="M57.50 28.30 L384.00 -251.18"/>
<path d="M57.50 98.60 L384.00 -180.88"/>
<path d="M57.50 169.00 L384.00 -110.48"/>
<path d="M57.50 239.30 L384.00 -40.18"/>
<path d="M57.50 308.80 L384.00 29.32"/>
<path d="M57.50 379.00 L384.00 99.52"/>
<path d="M57.50 449.20 L384.00 169.72"/>
<path d="M57.50 519.40 L384.00 239.92"/>
<path d="M57.50 589.60 L384.00 310.12"/>
<path d="M57.50 659.80 L384.00 380.32"/>
</g>
<path d="M57.5 152.3 L59.2 152.4 L60.9 152.5 L62.6 152.6 L64.3 152.7 L66.0 152.8 L67.6 152.9 L69.3 153.0 L71.0 153.2 L72.7 153.3 L74.4 153.4 L76.1 153.6 L77.8 153.7 L79.5 153.9 L81.1 154.0 L82.8 154.2 L84.5 154.4 L86.2 154.6 L87.9 154.7 L89.6 154.9 L91.2 155.1 L92.9 155.3 L94.6 155.5 L96.3 155.7 L98.0 156.0 L99.6 156.2 L101.3 156.4 L103.0 156.6 L104.7 156.9 L106.3 157.1 L108.0 157.3 L109.7 157.6 L111.3 157.8 L113.0 158.1 L114.7 158.4 L116.4 158.6 L118.0 158.9 L119.7 159.2 L121.4 159.5 L123.0 159.7 L124.7 160.0 L126.4 160.3 L128.0 160.6 L129.7 160.9 L131.4 161.2 L133.0 161.5 L134.7 161.8 L136.4 162.2 L138.0 162.5 L139.7 162.8 L141.4 163.1 L143.0 163.5 L144.7 163.8 L146.3 164.1 L148.0 164.5 L149.7 164.8 L151.3 165.2 L153.0 165.6 L154.6 165.9 L156.3 166.3 L157.9 166.7 L159.5 167.1 L161.2 167.6 L162.8 168.0 L164.4 168.5 L166.1 168.9 L167.7 169.4 L169.3 169.9 L170.9 170.4 L172.5 171.0 L174.1 171.5 L175.7 172.0 L177.3 172.6 L178.9 173.2 L180.5 173.7 L182.1 174.3 L183.7 174.9 L185.3 175.5 L186.9 176.1 L188.4 176.7 L190.0 177.3 L191.6 177.9 L193.2 178.5 L194.8 179.2 L196.3 179.8 L197.9 180.5 L199.4 181.2 L201.0 181.9 L202.5 182.6 L204.0 183.3 L205.5 184.1 L207.0 184.9 L208.5 185.6 L210.0 186.5 L211.5 187.3 L212.9 188.1 L214.4 189.0 L215.8 189.9 L217.3 190.8 L218.7 191.7 L220.1 192.6 L221.5 193.5 L222.9 194.5 L224.3 195.5 L225.7 196.4 L227.1 197.4 L228.4 198.4 L229.8 199.4 L231.2 200.5 L232.5 201.5 L233.9 202.5 L235.2 203.6 L236.5 204.6 L237.9 205.7 L239.2 206.7 L240.5 207.8 L241.8 208.9 L243.1 210.0 L244.4 211.2 L245.6 212.3 L246.8 213.5 L247.9 214.7 L249.0 216.0 L250.0 217.3 L251.0 218.7 L252.0 220.1 L252.9 221.5 L253.8 222.9 L254.7 224.4 L255.6 225.8 L256.5 227.3 L257.3 228.7 L258.2 230.2 L259.0 231.7 L259.9 233.1 L260.7 234.6 L261.5 236.1 L262.4 237.6 L263.2 239.0 L264.0 240.5 L264.8 242.0 L265.6 243.5 L266.5 245.0 L267.3 246.4 L268.1 247.9 L269.0 249.4 L269.8 250.9 L270.7 252.3 L271.5 253.8 L272.4 255.2 L273.2 256.7 L274.1 258.1 L275.0 259.6 L275.8 261.1 L276.7 262.5 L277.5 264.0 L278.3 265.5 L279.1 267.0 L279.9 268.5 L280.6 270.0 L281.3 271.5 L282.0 273.0 L282.7 274.6 L283.4 276.1 L284.1 277.7 L284.9 279.2 L285.6 280.7 L286.4 282.2 L287.2 283.8 L288.0 285.2 L288.9 286.7 L289.8 288.1 L290.7 289.6 L291.7 290.9 L292.8 292.3 L293.8 293.5 L295.0 294.8 L296.2 296.0 L297.4 297.1 L298.7 298.2 L300.0 299.3 L301.3 300.3 L302.7 301.4 L304.0 302.4 L305.4 303.4 L306.7 304.4 L308.0 305.5 L309.2 306.7 L310.3 307.9 L311.4 309.2 L312.3 310.5 L313.2 311.9 L314.0 313.4 L314.6 314.9 L315.2 316.4 L315.6 318.1 L316.0 319.8 L316.2 321.5 L316.2 323.3 L316.3 325.0 L316.40 345.50" fill="none" stroke="#4e4e50" stroke-width="1.55"/>
</g>
<path d="M220.8 228.4 L221.9 231.3 L224.9 231.5 L222.6 233.4 L223.3 236.4 L220.8 234.7 L218.2 236.4 L218.9 233.4 L216.6 231.5 L219.6 231.3 Z" fill="#2a2a2a"/>
<rect x="243.4" y="26.5" width="137.20" height="76.50" fill="#fff" fill-opacity="0.8"/>
<path d="M247 36.00 L271 36.00" stroke="#555" stroke-width="1.8" fill="none"/>
<text x="274.5" y="38.80" font-family="Liberation Serif, serif" font-size="12.5" fill="#333" letter-spacing="0.1">SK+DC disfavored</text>
<path d="M247 54.90 L271 54.90" stroke="#b5b5b5" stroke-width="1.8" fill="none"/>
<text x="274.5" y="57.70" font-family="Liberation Serif, serif" font-size="12.5" fill="#333">NOMAD disfavored</text>
<path d="M247 73.80 L271 73.80" stroke="#d4337a" stroke-width="1.8" fill="none"/>
<text x="274.5" y="76.60" font-family="Liberation Serif, serif" font-size="12.5" fill="#333">IC (1 year data)</text>
<path d="M247 92.70 L271 92.70" stroke="#2b93a0" stroke-width="1.8" fill="none"/>
<text x="274.5" y="95.50" font-family="Liberation Serif, serif" font-size="12.5" fill="#333">IC (8 years forecast)</text>
<g stroke="#484848" stroke-width="1.05" fill="none">
<path d="M57.50 18.50 V345.50 H384.00 V18.50"/>
<path d="M57.00 18.50 H384.50" stroke="#808080" stroke-width="1.2"/>
<path d="M57.50 345.50 h4.50 M384.00 345.50 h-4.50"/>
<path d="M57.50 334.22 h2.20 M384.00 334.22 h-2.20"/>
<path d="M57.50 322.95 h2.20 M384.00 322.95 h-2.20"/>
<path d="M57.50 311.67 h2.20 M384.00 311.67 h-2.20"/>
<path d="M57.50 300.40 h2.20 M384.00 300.40 h-2.20"/>
<path d="M57.50 289.12 h4.50 M384.00 289.12 h-4.50"/>
<path d="M57.50 277.84 h2.20 M384.00 277.84 h-2.20"/>
<path d="M57.50 266.57 h2.20 M384.00 266.57 h-2.20"/>
<path d="M57.50 255.29 h2.20 M384.00 255.29 h-2.20"/>
<path d="M57.50 244.02 h2.20 M384.00 244.02 h-2.20"/>
<path d="M57.50 232.74 h4.50 M384.00 232.74 h-4.50"/>
<path d="M57.50 221.47 h2.20 M384.00 221.47 h-2.20"/>
<path d="M57.50 210.19 h2.20 M384.00 210.19 h-2.20"/>
<path d="M57.50 198.91 h2.20 M384.00 198.91 h-2.20"/>
<path d="M57.50 187.64 h2.20 M384.00 187.64 h-2.20"/>
<path d="M57.50 176.36 h4.50 M384.00 176.36 h-4.50"/>
<path d="M57.50 165.09 h2.20 M384.00 165.09 h-2.20"/>
<path d="M57.50 153.81 h2.20 M384.00 153.81 h-2.20"/>
<path d="M57.50 142.53 h2.20 M384.00 142.53 h-2.20"/>
<path d="M57.50 131.26 h2.20 M384.00 131.26 h-2.20"/>
<path d="M57.50 119.98 h4.50 M384.00 119.98 h-4.50"/>
<path d="M57.50 108.71 h2.20 M384.00 108.71 h-2.20"/>
<path d="M57.50 97.43 h2.20 M384.00 97.43 h-2.20"/>
<path d="M57.50 86.16 h2.20 M384.00 86.16 h-2.20"/>
<path d="M57.50 74.88 h2.20 M384.00 74.88 h-2.20"/>
<path d="M57.50 63.60 h4.50 M384.00 63.60 h-4.50"/>
<path d="M57.50 52.33 h2.20 M384.00 52.33 h-2.20"/>
<path d="M57.50 41.05 h2.20 M384.00 41.05 h-2.20"/>
<path d="M57.50 29.78 h2.20 M384.00 29.78 h-2.20"/>
<path d="M57.50 18.50 h2.20 M384.00 18.50 h-2.20"/>
<path d="M57.50 345.50 v-4.50 M57.50 18.50 v4.50"/>
<path d="M106.64 345.50 v-2.20 M106.64 18.50 v2.20"/>
<path d="M135.39 345.50 v-2.20 M135.39 18.50 v2.20"/>
<path d="M155.79 345.50 v-2.20 M155.79 18.50 v2.20"/>
<path d="M171.61 345.50 v-2.20 M171.61 18.50 v2.20"/>
<path d="M184.53 345.50 v-2.20 M184.53 18.50 v2.20"/>
<path d="M195.46 345.50 v-2.20 M195.46 18.50 v2.20"/>
<path d="M204.93 345.50 v-2.20 M204.93 18.50 v2.20"/>
<path d="M213.28 345.50 v-2.20 M213.28 18.50 v2.20"/>
<path d="M220.75 345.50 v-4.50 M220.75 18.50 v4.50"/>
<path d="M269.89 345.50 v-2.20 M269.89 18.50 v2.20"/>
<path d="M298.64 345.50 v-2.20 M298.64 18.50 v2.20"/>
<path d="M319.04 345.50 v-2.20 M319.04 18.50 v2.20"/>
<path d="M334.86 345.50 v-2.20 M334.86 18.50 v2.20"/>
<path d="M347.78 345.50 v-2.20 M347.78 18.50 v2.20"/>
<path d="M358.71 345.50 v-2.20 M358.71 18.50 v2.20"/>
<path d="M368.18 345.50 v-2.20 M368.18 18.50 v2.20"/>
<path d="M376.53 345.50 v-2.20 M376.53 18.50 v2.20"/>
<path d="M384.00 345.50 v-4.50 M384.00 18.50 v4.50"/>
</g>
<g font-family="Liberation Sans, sans-serif" font-size="14.67" fill="#333">
<text x="55.5" y="350.20" text-anchor="end">0</text>
<text x="55.5" y="293.82" text-anchor="end">0.05</text>
<text x="55.5" y="237.44" text-anchor="end">0.1</text>
<text x="55.5" y="181.06" text-anchor="end">0.15</text>
<text x="55.5" y="124.68" text-anchor="end">0.2</text>
<text x="55.5" y="68.30" text-anchor="end">0.25</text>
<text x="43.60" y="360.7" text-anchor="start">10<tspan font-size="10.3" dy="-5.7">−3</tspan></text>
<text x="206.85" y="360.7" text-anchor="start">10<tspan font-size="10.3" dy="-5.7">−2</tspan></text>
<text x="370.10" y="360.7" text-anchor="start">10<tspan font-size="10.3" dy="-5.7">−1</tspan></text>
</g>
<g font-family="Liberation Sans, sans-serif" fill="#333">
<text x="192.5" y="384.8" font-size="19">|<tspan dx="4.5" font-style="italic">U</tspan><tspan font-size="12.4" dy="3" font-style="italic">μ</tspan><tspan font-size="12.4">4</tspan><tspan dy="-3" dx="5.3">|</tspan><tspan font-size="12.4" dy="-10.2" dx="5.1">2</tspan></text>
<g transform="translate(18.9,211.2) rotate(-90)"><text x="0" y="0" font-size="19"><tspan dy="1.2">|</tspan><tspan dx="1.5" dy="-1.2" font-style="italic">U</tspan><tspan font-size="12.4" dy="4.3" dx="5.6" font-style="italic">τ</tspan><tspan font-size="12.4">4</tspan><tspan dy="-3.1" dx="4.1">|</tspan><tspan font-size="12.4" dy="-11.3" dx="3.8">2</tspan></text></g>
</g>
</svg>
</body></html>
